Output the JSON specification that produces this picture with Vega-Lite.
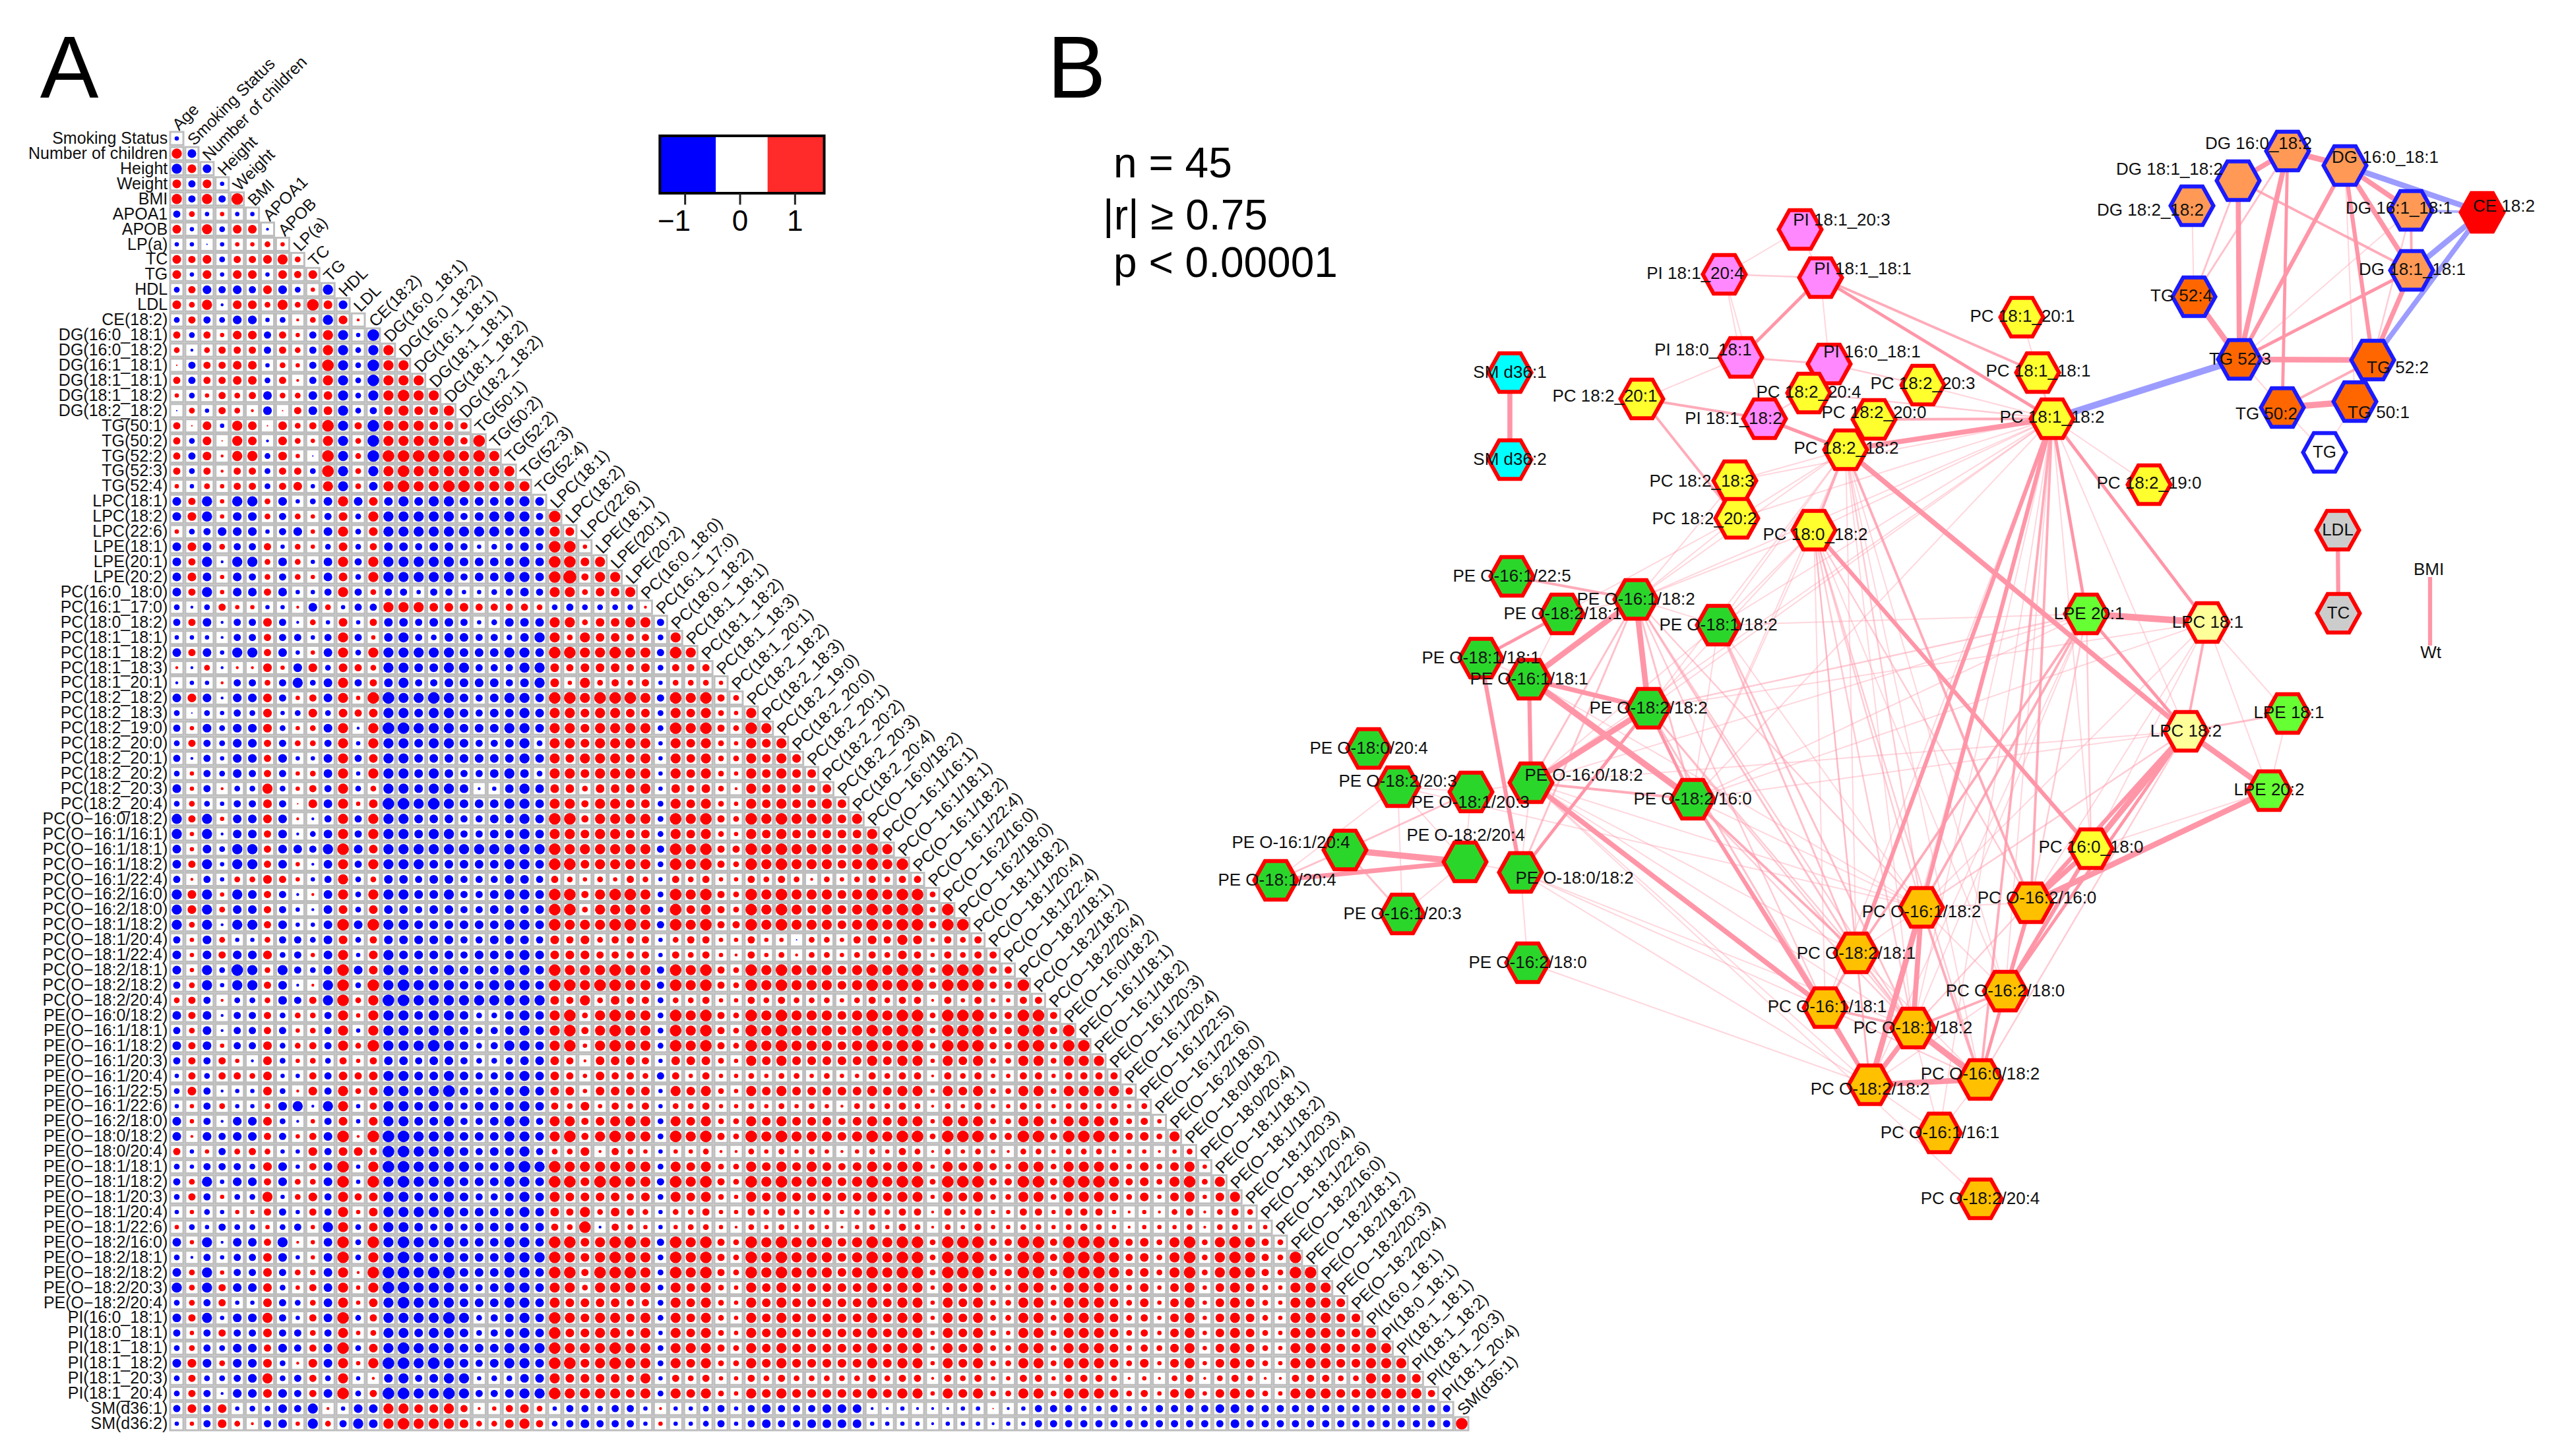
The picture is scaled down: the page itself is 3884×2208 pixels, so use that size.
{"$schema":"https://vega.github.io/schema/vega-lite/v6.json","width":3884,"height":2208,"padding":0,"autosize":{"type":"fit","contains":"padding"},"background":"white","config":{"axis":{"disable":true},"legend":{"disable":true},"view":{"stroke":null},"text":{"font":"Liberation Sans","fill":"#111"}},
"datasets":{"names":[{"i":0,"n":"Age"},{"i":1,"n":"Smoking Status"},{"i":2,"n":"Number of children"},{"i":3,"n":"Height"},{"i":4,"n":"Weight"},{"i":5,"n":"BMI"},{"i":6,"n":"APOA1"},{"i":7,"n":"APOB"},{"i":8,"n":"LP(a)"},{"i":9,"n":"TC"},{"i":10,"n":"TG"},{"i":11,"n":"HDL"},{"i":12,"n":"LDL"},{"i":13,"n":"CE(18:2)"},{"i":14,"n":"DG(16:0_18:1)"},{"i":15,"n":"DG(16:0_18:2)"},{"i":16,"n":"DG(16:1_18:1)"},{"i":17,"n":"DG(18:1_18:1)"},{"i":18,"n":"DG(18:1_18:2)"},{"i":19,"n":"DG(18:2_18:2)"},{"i":20,"n":"TG(50:1)"},{"i":21,"n":"TG(50:2)"},{"i":22,"n":"TG(52:2)"},{"i":23,"n":"TG(52:3)"},{"i":24,"n":"TG(52:4)"},{"i":25,"n":"LPC(18:1)"},{"i":26,"n":"LPC(18:2)"},{"i":27,"n":"LPC(22:6)"},{"i":28,"n":"LPE(18:1)"},{"i":29,"n":"LPE(20:1)"},{"i":30,"n":"LPE(20:2)"},{"i":31,"n":"PC(16:0_18:0)"},{"i":32,"n":"PC(16:1_17:0)"},{"i":33,"n":"PC(18:0_18:2)"},{"i":34,"n":"PC(18:1_18:1)"},{"i":35,"n":"PC(18:1_18:2)"},{"i":36,"n":"PC(18:1_18:3)"},{"i":37,"n":"PC(18:1_20:1)"},{"i":38,"n":"PC(18:2_18:2)"},{"i":39,"n":"PC(18:2_18:3)"},{"i":40,"n":"PC(18:2_19:0)"},{"i":41,"n":"PC(18:2_20:0)"},{"i":42,"n":"PC(18:2_20:1)"},{"i":43,"n":"PC(18:2_20:2)"},{"i":44,"n":"PC(18:2_20:3)"},{"i":45,"n":"PC(18:2_20:4)"},{"i":46,"n":"PC(O−16:0/18:2)"},{"i":47,"n":"PC(O−16:1/16:1)"},{"i":48,"n":"PC(O−16:1/18:1)"},{"i":49,"n":"PC(O−16:1/18:2)"},{"i":50,"n":"PC(O−16:1/22:4)"},{"i":51,"n":"PC(O−16:2/16:0)"},{"i":52,"n":"PC(O−16:2/18:0)"},{"i":53,"n":"PC(O−18:1/18:2)"},{"i":54,"n":"PC(O−18:1/20:4)"},{"i":55,"n":"PC(O−18:1/22:4)"},{"i":56,"n":"PC(O−18:2/18:1)"},{"i":57,"n":"PC(O−18:2/18:2)"},{"i":58,"n":"PC(O−18:2/20:4)"},{"i":59,"n":"PE(O−16:0/18:2)"},{"i":60,"n":"PE(O−16:1/18:1)"},{"i":61,"n":"PE(O−16:1/18:2)"},{"i":62,"n":"PE(O−16:1/20:3)"},{"i":63,"n":"PE(O−16:1/20:4)"},{"i":64,"n":"PE(O−16:1/22:5)"},{"i":65,"n":"PE(O−16:1/22:6)"},{"i":66,"n":"PE(O−16:2/18:0)"},{"i":67,"n":"PE(O−18:0/18:2)"},{"i":68,"n":"PE(O−18:0/20:4)"},{"i":69,"n":"PE(O−18:1/18:1)"},{"i":70,"n":"PE(O−18:1/18:2)"},{"i":71,"n":"PE(O−18:1/20:3)"},{"i":72,"n":"PE(O−18:1/20:4)"},{"i":73,"n":"PE(O−18:1/22:6)"},{"i":74,"n":"PE(O−18:2/16:0)"},{"i":75,"n":"PE(O−18:2/18:1)"},{"i":76,"n":"PE(O−18:2/18:2)"},{"i":77,"n":"PE(O−18:2/20:3)"},{"i":78,"n":"PE(O−18:2/20:4)"},{"i":79,"n":"PI(16:0_18:1)"},{"i":80,"n":"PI(18:0_18:1)"},{"i":81,"n":"PI(18:1_18:1)"},{"i":82,"n":"PI(18:1_18:2)"},{"i":83,"n":"PI(18:1_20:3)"},{"i":84,"n":"PI(18:1_20:4)"},{"i":85,"n":"SM(d36:1)"},{"i":86,"n":"SM(d36:2)"}],
"nodes":[{"id":0,"n":"PI 18:1_20:3","g":"PI","x":2729,"y":348,"lx":2792,"ly":334},{"id":1,"n":"PI 18:1_20:4","g":"PI","x":2614,"y":416,"lx":2570,"ly":415},{"id":2,"n":"PI 18:1_18:1","g":"PI","x":2760,"y":421,"lx":2824,"ly":408},{"id":3,"n":"PC 18:1_20:1","g":"PC","x":3065,"y":481,"lx":3066,"ly":480},{"id":4,"n":"PI 18:0_18:1","g":"PI","x":2639,"y":542,"lx":2582,"ly":531},{"id":5,"n":"PI 16:0_18:1","g":"PI","x":2773,"y":552,"lx":2838,"ly":534},{"id":6,"n":"PC 18:1_18:1","g":"PC","x":3089,"y":565,"lx":3090,"ly":563},{"id":7,"n":"PC 18:2_20:3","g":"PC","x":2915,"y":584,"lx":2915,"ly":582},{"id":8,"n":"PC 18:2_20:4","g":"PC","x":2742,"y":596,"lx":2742,"ly":595},{"id":9,"n":"PC 18:2_20:1","g":"PC","x":2489,"y":605,"lx":2433,"ly":601},{"id":10,"n":"PI 18:1_18:2","g":"PI","x":2675,"y":635,"lx":2628,"ly":635},{"id":11,"n":"PC 18:2_20:0","g":"PC","x":2841,"y":636,"lx":2841,"ly":626},{"id":12,"n":"PC 18:1_18:2","g":"PC","x":3111,"y":635,"lx":3111,"ly":633},{"id":13,"n":"PC 18:2_18:2","g":"PC","x":2798,"y":682,"lx":2799,"ly":680},{"id":14,"n":"PC 18:2_18:3","g":"PC","x":2630,"y":729,"lx":2580,"ly":730},{"id":15,"n":"PC 18:2_20:2","g":"PC","x":2633,"y":786,"lx":2584,"ly":787},{"id":16,"n":"PC 18:0_18:2","g":"PC","x":2750,"y":804,"lx":2752,"ly":811},{"id":17,"n":"PC 18:2_19:0","g":"PC","x":3258,"y":735,"lx":3258,"ly":733},{"id":18,"n":"DG 16:0_18:2","g":"DG","x":3468,"y":229,"lx":3424,"ly":218},{"id":19,"n":"DG 16:0_18:1","g":"DG","x":3555,"y":251,"lx":3616,"ly":239},{"id":20,"n":"DG 18:1_18:2","g":"DG","x":3393,"y":274,"lx":3289,"ly":257},{"id":21,"n":"DG 18:2_18:2","g":"DG","x":3323,"y":312,"lx":3260,"ly":319},{"id":22,"n":"DG 16:1_18:1","g":"DG","x":3655,"y":319,"lx":3637,"ly":316},{"id":23,"n":"CE 18:2","g":"CE","x":3763,"y":322,"lx":3796,"ly":313},{"id":24,"n":"DG 18:1_18:1","g":"DG","x":3656,"y":410,"lx":3657,"ly":409},{"id":25,"n":"TG 52:4","g":"TGl","x":3326,"y":450,"lx":3307,"ly":449},{"id":26,"n":"TG 52:3","g":"TGl","x":3395,"y":545,"lx":3396,"ly":545},{"id":27,"n":"TG 52:2","g":"TGl","x":3597,"y":546,"lx":3635,"ly":558},{"id":28,"n":"TG 50:2","g":"TGl","x":3460,"y":618,"lx":3436,"ly":628},{"id":29,"n":"TG 50:1","g":"TGl","x":3570,"y":609,"lx":3606,"ly":626},{"id":30,"n":"TG","g":"TGc","x":3524,"y":686,"lx":3524,"ly":686},{"id":31,"n":"LDL","g":"Cl","x":3544,"y":804,"lx":3544,"ly":804},{"id":32,"n":"TC","g":"Cl","x":3545,"y":930,"lx":3545,"ly":930},{"id":33,"n":"BMI","g":"none","x":3684,"y":875,"lx":3682,"ly":864},{"id":34,"n":"Wt","g":"none","x":3684,"y":979,"lx":3685,"ly":990},{"id":35,"n":"LPE 20:1","g":"LPE","x":3163,"y":931,"lx":3167,"ly":931},{"id":36,"n":"LPC 18:1","g":"LPC","x":3346,"y":944,"lx":3347,"ly":944},{"id":37,"n":"LPE 18:1","g":"LPE","x":3468,"y":1082,"lx":3470,"ly":1081},{"id":38,"n":"LPC 18:2","g":"LPC","x":3314,"y":1109,"lx":3314,"ly":1109},{"id":39,"n":"LPE 20:2","g":"LPE","x":3440,"y":1199,"lx":3440,"ly":1198},{"id":40,"n":"PC 16:0_18:0","g":"PC","x":3170,"y":1287,"lx":3170,"ly":1285},{"id":41,"n":"PC O-16:2/16:0","g":"PCO","x":3079,"y":1369,"lx":3088,"ly":1362},{"id":42,"n":"PC O-16:1/18:2","g":"PCO","x":2913,"y":1376,"lx":2913,"ly":1383},{"id":43,"n":"PC O-18:2/18:1","g":"PCO","x":2814,"y":1445,"lx":2814,"ly":1446},{"id":44,"n":"PC O-16:2/18:0","g":"PCO","x":3040,"y":1503,"lx":3040,"ly":1503},{"id":45,"n":"PC O-16:1/18:1","g":"PCO","x":2767,"y":1528,"lx":2770,"ly":1527},{"id":46,"n":"PC O-18:1/18:2","g":"PCO","x":2900,"y":1559,"lx":2900,"ly":1559},{"id":47,"n":"PC O-18:2/18:2","g":"PCO","x":2835,"y":1645,"lx":2835,"ly":1652},{"id":48,"n":"PC O-16:0/18:2","g":"PCO","x":3002,"y":1637,"lx":3002,"ly":1629},{"id":49,"n":"PC O-16:1/16:1","g":"PCO","x":2940,"y":1718,"lx":2941,"ly":1718},{"id":50,"n":"PC O-18:2/20:4","g":"PCO","x":3002,"y":1818,"lx":3002,"ly":1818},{"id":51,"n":"PE O-16:1/22:5","g":"PEO","x":2292,"y":874,"lx":2292,"ly":874},{"id":52,"n":"PE O-16:1/18:2","g":"PEO","x":2480,"y":909,"lx":2480,"ly":909},{"id":53,"n":"PE O-18:2/18:1","g":"PEO","x":2368,"y":931,"lx":2369,"ly":931},{"id":54,"n":"PE O-18:1/18:2","g":"PEO","x":2605,"y":948,"lx":2605,"ly":948},{"id":55,"n":"PE O-18:1/18:1","g":"PEO","x":2245,"y":998,"lx":2245,"ly":998},{"id":56,"n":"PE O-16:1/18:1","g":"PEO","x":2318,"y":1030,"lx":2318,"ly":1030},{"id":57,"n":"PE O-18:2/18:2","g":"PEO","x":2499,"y":1074,"lx":2499,"ly":1074},{"id":58,"n":"PE O-18:0/20:4","g":"PEO","x":2075,"y":1135,"lx":2075,"ly":1135},{"id":59,"n":"PE O-16:0/18:2","g":"PEO","x":2321,"y":1187,"lx":2401,"ly":1176},{"id":60,"n":"PE O-18:2/20:3","g":"PEO","x":2119,"y":1193,"lx":2119,"ly":1185},{"id":61,"n":"PE O-18:1/20:3","g":"PEO","x":2230,"y":1201,"lx":2229,"ly":1217},{"id":62,"n":"PE O-18:2/16:0","g":"PEO","x":2566,"y":1212,"lx":2566,"ly":1212},{"id":63,"n":"PE O-16:1/20:4","g":"PEO","x":2039,"y":1289,"lx":1957,"ly":1278},{"id":64,"n":"PE O-18:2/20:4","g":"PEO","x":2221,"y":1307,"lx":2222,"ly":1267},{"id":65,"n":"PE O-18:1/20:4","g":"PEO","x":1934,"y":1335,"lx":1936,"ly":1335},{"id":66,"n":"PE O-18:0/18:2","g":"PEO","x":2305,"y":1323,"lx":2387,"ly":1332},{"id":67,"n":"PE O-16:1/20:3","g":"PEO","x":2126,"y":1386,"lx":2126,"ly":1386},{"id":68,"n":"PE O-16:2/18:0","g":"PEO","x":2316,"y":1460,"lx":2316,"ly":1460},{"id":69,"n":"SM d36:1","g":"SM","x":2289,"y":565,"lx":2289,"ly":565},{"id":70,"n":"SM d36:2","g":"SM","x":2289,"y":697,"lx":2289,"ly":697}]},
"resolve":{"scale":{"x":"independent","y":"independent","color":"independent","fill":"independent","stroke":"independent","size":"independent","opacity":"independent","strokeWidth":"independent"}},
"layer":[
{"layer":[
{"data":{"name":"names"},"transform":[{"filter":"datum.i>=1"}],"mark":{"type":"text","align":"right","baseline":"middle","fontSize":25},"encoding":{"x":{"datum":-0.6,"type":"quantitative","scale":{"domain":[0,85],"range":[268,2216]}},"y":{"field":"i","type":"quantitative","scale":{"domain":[1,86],"range":[210,2159]}},"text":{"field":"n"}}},
{"data":{"name":"names"},"transform":[{"filter":"datum.i<=85"}],"mark":{"type":"text","align":"left","baseline":"alphabetic","angle":315,"fontSize":25,"dx":-6,"dy":11},"encoding":{"x":{"field":"i","type":"quantitative","scale":{"domain":[0,85],"range":[268,2216]}},"y":{"field":"i","type":"quantitative","scale":{"domain":[1,86],"range":[210,2159]}},"text":{"field":"n"}}},
{"data":{"values":"r,c,v\n1,0,-3\n2,0,7\n2,1,-6\n3,0,-7\n3,1,6\n3,2,-6\n4,0,6\n4,1,-5\n4,2,6\n4,3,-3\n5,0,7\n5,1,-5\n5,2,7\n5,3,-5\n5,4,8\n6,0,-5\n6,1,4\n6,2,-3\n6,3,3\n6,4,-3\n6,5,-3\n7,0,6\n7,1,-3\n7,2,7\n7,3,-4\n7,4,6\n7,5,6\n7,6,-2\n8,0,-3\n8,1,-3\n8,2,-1\n8,3,-3\n8,4,3\n8,5,3\n8,6,4\n8,7,3\n9,0,6\n9,1,5\n9,2,6\n9,3,-4\n9,4,5\n9,5,5\n9,6,6\n9,7,7\n9,8,4\n10,0,6\n10,1,-3\n10,2,6\n10,3,-3\n10,4,6\n10,5,6\n10,6,-3\n10,7,6\n10,8,5\n10,9,6\n11,0,-4\n11,1,5\n11,2,-6\n11,3,-5\n11,4,-6\n11,5,-5\n11,6,6\n11,7,-6\n11,8,-4\n11,9,3\n11,10,-7\n12,0,6\n12,1,4\n12,2,7\n12,3,-2\n12,4,6\n12,5,6\n12,6,4\n12,7,7\n12,8,4\n12,9,8\n12,10,6\n12,11,-6\n13,0,-4\n13,1,5\n13,2,-5\n13,3,-4\n13,4,-6\n13,5,-6\n13,6,-3\n13,7,-4\n13,8,2\n13,9,4\n13,10,-7\n13,11,6\n13,12,2\n14,0,5\n14,1,-4\n14,2,5\n14,3,3\n14,4,6\n14,5,6\n14,6,-5\n14,7,5\n14,8,3\n14,9,-5\n14,10,7\n14,11,-7\n14,12,-3\n14,13,-8\n15,0,4\n15,1,-2\n15,2,4\n15,3,5\n15,4,5\n15,5,5\n15,6,-5\n15,7,5\n15,8,4\n15,9,-5\n15,10,7\n15,11,-7\n15,12,-4\n15,13,-7\n15,14,7\n16,0,1\n16,1,-5\n16,2,5\n16,3,5\n16,4,6\n16,5,6\n16,6,-3\n16,7,4\n16,8,3\n16,9,-5\n16,10,8\n16,11,-7\n16,12,-4\n16,13,-8\n16,14,7\n16,15,7\n17,0,5\n17,1,-5\n17,2,5\n17,3,5\n17,4,6\n17,5,6\n17,6,-4\n17,7,5\n17,8,2\n17,9,-5\n17,10,7\n17,11,-7\n17,12,-4\n17,13,-8\n17,14,7\n17,15,7\n17,16,7\n18,0,3\n18,1,-4\n18,2,3\n18,3,5\n18,4,4\n18,5,5\n18,6,-6\n18,7,4\n18,8,4\n18,9,-6\n18,10,6\n18,11,-7\n18,12,-4\n18,13,-7\n18,14,7\n18,15,8\n18,16,7\n18,17,7\n19,0,-1\n19,1,4\n19,2,-3\n19,3,5\n19,4,4\n19,5,2\n19,6,-6\n19,7,1\n19,8,5\n19,9,-6\n19,10,6\n19,11,-7\n19,12,-4\n19,13,-5\n19,14,6\n19,15,7\n19,16,6\n19,17,6\n19,18,7\n20,0,5\n20,1,1\n20,2,6\n20,3,-3\n20,4,7\n20,5,6\n20,6,1\n20,7,6\n20,8,4\n20,9,5\n20,10,8\n20,11,-7\n20,12,5\n20,13,-8\n20,14,7\n20,15,7\n20,16,7\n20,17,6\n20,18,6\n20,19,5\n21,0,5\n21,1,-4\n21,2,6\n21,3,1\n21,4,7\n21,5,6\n21,6,-2\n21,7,6\n21,8,4\n21,9,3\n21,10,7\n21,11,-7\n21,12,4\n21,13,-8\n21,14,7\n21,15,7\n21,16,7\n21,17,7\n21,18,7\n21,19,5\n21,20,8\n22,0,5\n22,1,-5\n22,2,6\n22,3,2\n22,4,7\n22,5,7\n22,6,-4\n22,7,6\n22,8,3\n22,9,-1\n22,10,8\n22,11,-7\n22,12,4\n22,13,-8\n22,14,8\n22,15,8\n22,16,8\n22,17,8\n22,18,8\n22,19,7\n22,20,8\n22,21,7\n23,0,5\n23,1,-4\n23,2,5\n23,3,2\n23,4,5\n23,5,5\n23,6,-4\n23,7,5\n23,8,5\n23,9,-4\n23,10,8\n23,11,-7\n23,12,4\n23,13,-7\n23,14,7\n23,15,8\n23,16,7\n23,17,7\n23,18,7\n23,19,7\n23,20,7\n23,21,7\n23,22,7\n24,0,3\n24,1,-3\n24,2,4\n24,3,3\n24,4,5\n24,5,5\n24,6,-4\n24,7,5\n24,8,6\n24,9,-3\n24,10,7\n24,11,-7\n24,12,4\n24,13,-6\n24,14,7\n24,15,8\n24,16,7\n24,17,7\n24,18,8\n24,19,8\n24,20,7\n24,21,7\n24,22,7\n24,23,7\n25,0,-6\n25,1,5\n25,2,-7\n25,3,3\n25,4,-7\n25,5,-7\n25,6,4\n25,7,-6\n25,8,-3\n25,9,-4\n25,10,-6\n25,11,7\n25,12,-6\n25,13,6\n25,14,-6\n25,15,-7\n25,16,-6\n25,17,-7\n25,18,-7\n25,19,-6\n25,20,-6\n25,21,-6\n25,22,-6\n25,23,-7\n25,24,-6\n26,0,-6\n26,1,6\n26,2,-7\n26,3,3\n26,4,-6\n26,5,-6\n26,6,4\n26,7,-5\n26,8,4\n26,9,3\n26,10,-5\n26,11,6\n26,12,-4\n26,13,7\n26,14,-7\n26,15,-7\n26,16,-7\n26,17,-7\n26,18,-7\n26,19,-5\n26,20,-6\n26,21,-7\n26,22,-7\n26,23,-7\n26,24,-5\n26,25,8\n27,0,3\n27,1,-4\n27,2,-5\n27,3,-6\n27,4,-6\n27,5,-6\n27,6,-3\n27,7,-5\n27,8,-6\n27,9,3\n27,10,-6\n27,11,7\n27,12,-4\n27,13,6\n27,14,-7\n27,15,-7\n27,16,-7\n27,17,-7\n27,18,-7\n27,19,-7\n27,20,-7\n27,21,-7\n27,22,-6\n27,23,-7\n27,24,-6\n27,25,7\n27,26,6\n28,0,-6\n28,1,6\n28,2,-6\n28,3,4\n28,4,-5\n28,5,-5\n28,6,5\n28,7,-3\n28,8,4\n28,9,3\n28,10,-4\n28,11,6\n28,12,-4\n28,13,5\n28,14,-6\n28,15,-6\n28,16,-5\n28,17,-6\n28,18,-6\n28,19,-5\n28,20,-3\n28,21,-4\n28,22,-5\n28,23,-6\n28,24,-5\n28,25,8\n28,26,8\n28,27,3\n29,0,-6\n29,1,5\n29,2,-7\n29,3,-2\n29,4,-7\n29,5,-7\n29,6,4\n29,7,-6\n29,8,4\n29,9,-3\n29,10,-6\n29,11,7\n29,12,-5\n29,13,7\n29,14,-7\n29,15,-7\n29,16,-7\n29,17,-7\n29,18,-7\n29,19,-6\n29,20,-6\n29,21,-6\n29,22,-6\n29,23,-7\n29,24,-6\n29,25,8\n29,26,8\n29,27,6\n29,28,7\n30,0,-6\n30,1,6\n30,2,-6\n30,3,3\n30,4,-6\n30,5,-5\n30,6,4\n30,7,-5\n30,8,4\n30,9,3\n30,10,-6\n30,11,6\n30,12,-4\n30,13,7\n30,14,-7\n30,15,-7\n30,16,-7\n30,17,-7\n30,18,-7\n30,19,-5\n30,20,-6\n30,21,-6\n30,22,-7\n30,23,-7\n30,24,-6\n30,25,8\n30,26,9\n30,27,5\n30,28,7\n30,29,7\n31,0,-6\n31,1,5\n31,2,-7\n31,3,3\n31,4,-6\n31,5,-6\n31,6,5\n31,7,-6\n31,8,-3\n31,9,-3\n31,10,-5\n31,11,7\n31,12,-5\n31,13,4\n31,14,-5\n31,15,-5\n31,16,-3\n31,17,-5\n31,18,-5\n31,19,-3\n31,20,-3\n31,21,-4\n31,22,-5\n31,23,-6\n31,24,-5\n31,25,7\n31,26,7\n31,27,4\n31,28,6\n31,29,6\n31,30,7\n32,0,-4\n32,1,-2\n32,2,-4\n32,3,5\n32,4,3\n32,5,3\n32,6,-3\n32,7,-3\n32,8,2\n32,9,-6\n32,10,4\n32,11,-3\n32,12,-5\n32,13,-5\n32,14,7\n32,15,7\n32,16,7\n32,17,6\n32,18,6\n32,19,6\n32,20,5\n32,21,5\n32,22,5\n32,23,5\n32,24,4\n32,25,-4\n32,26,-5\n32,27,-4\n32,28,-4\n32,29,-4\n32,30,-4\n32,31,2\n33,0,-5\n33,1,5\n33,2,-6\n33,3,-2\n33,4,-5\n33,5,-5\n33,6,6\n33,7,-5\n33,8,-2\n33,9,4\n33,10,-3\n33,11,6\n33,12,-3\n33,13,5\n33,14,-6\n33,15,-6\n33,16,-5\n33,17,-6\n33,18,-6\n33,19,-5\n33,20,-3\n33,21,-4\n33,22,-6\n33,23,-6\n33,24,-6\n33,25,7\n33,26,7\n33,27,4\n33,28,6\n33,29,6\n33,30,7\n33,31,7\n33,32,-5\n34,0,-3\n34,1,-3\n34,2,-3\n34,3,-2\n34,4,-5\n34,5,-5\n34,6,5\n34,7,-5\n34,8,-5\n34,9,-3\n34,10,-5\n34,11,7\n34,12,-5\n34,13,3\n34,14,-6\n34,15,-7\n34,16,-5\n34,17,-4\n34,18,-6\n34,19,-6\n34,20,-5\n34,21,-5\n34,22,-4\n34,23,-6\n34,24,-7\n34,25,7\n34,26,4\n34,27,7\n34,28,6\n34,29,6\n34,30,5\n34,31,5\n34,32,-4\n34,33,7\n35,0,-6\n35,1,5\n35,2,-6\n35,3,-3\n35,4,-7\n35,5,-7\n35,6,5\n35,7,-6\n35,8,-3\n35,9,3\n35,10,-6\n35,11,7\n35,12,-4\n35,13,7\n35,14,-7\n35,15,-7\n35,16,-7\n35,17,-7\n35,18,-7\n35,19,-6\n35,20,-6\n35,21,-6\n35,22,-7\n35,23,-7\n35,24,-6\n35,25,8\n35,26,8\n35,27,7\n35,28,7\n35,29,8\n35,30,7\n35,31,7\n35,32,-5\n35,33,8\n35,34,7\n36,0,2\n36,1,-2\n36,2,4\n36,3,-2\n36,4,2\n36,5,2\n36,6,6\n36,7,3\n36,8,-6\n36,9,6\n36,10,-4\n36,11,6\n36,12,5\n36,13,4\n36,14,-7\n36,15,-7\n36,16,-6\n36,17,-6\n36,18,-7\n36,19,-7\n36,20,-5\n36,21,-5\n36,22,-5\n36,23,-7\n36,24,-7\n36,25,6\n36,26,5\n36,27,6\n36,28,6\n36,29,6\n36,30,5\n36,31,6\n36,32,-4\n36,33,5\n36,34,5\n36,35,5\n37,0,-2\n37,1,-3\n37,2,-3\n37,3,2\n37,4,-5\n37,5,-5\n37,6,4\n37,7,-5\n37,8,-7\n37,9,-4\n37,10,-6\n37,11,7\n37,12,-5\n37,13,5\n37,14,-6\n37,15,-7\n37,16,-5\n37,17,-5\n37,18,-6\n37,19,-6\n37,20,-6\n37,21,-6\n37,22,-5\n37,23,-6\n37,24,-7\n37,25,6\n37,26,3\n37,27,7\n37,28,4\n37,29,5\n37,30,4\n37,31,5\n37,32,-3\n37,33,4\n37,34,4\n37,35,4\n37,36,3\n38,0,-6\n38,1,6\n38,2,-6\n38,3,-2\n38,4,-6\n38,5,-6\n38,6,6\n38,7,-5\n38,8,3\n38,9,5\n38,10,-6\n38,11,7\n38,12,3\n38,13,8\n38,14,-8\n38,15,-7\n38,16,-7\n38,17,-8\n38,18,-7\n38,19,-6\n38,20,-5\n38,21,-6\n38,22,-7\n38,23,-7\n38,24,-6\n38,25,8\n38,26,8\n38,27,7\n38,28,8\n38,29,8\n38,30,8\n38,31,7\n38,32,-5\n38,33,8\n38,34,7\n38,35,8\n38,36,5\n38,37,4\n39,0,-4\n39,1,-1\n39,2,-4\n39,3,-3\n39,4,-5\n39,5,-4\n39,6,6\n39,7,-3\n39,8,-4\n39,9,6\n39,10,-4\n39,11,6\n39,12,5\n39,13,6\n39,14,-7\n39,15,-7\n39,16,-6\n39,17,-7\n39,18,-7\n39,19,-6\n39,20,-5\n39,21,-6\n39,22,-6\n39,23,-7\n39,24,-6\n39,25,7\n39,26,7\n39,27,6\n39,28,7\n39,29,7\n39,30,6\n39,31,6\n39,32,-4\n39,33,7\n39,34,6\n39,35,7\n39,36,4\n39,37,3\n39,38,7\n40,0,-5\n40,1,3\n40,2,-6\n40,3,-4\n40,4,-6\n40,5,-6\n40,6,6\n40,7,-4\n40,8,3\n40,9,4\n40,10,-6\n40,11,7\n40,12,-2\n40,13,7\n40,14,-8\n40,15,-8\n40,16,-7\n40,17,-7\n40,18,-7\n40,19,-6\n40,20,-6\n40,21,-6\n40,22,-7\n40,23,-7\n40,24,-6\n40,25,7\n40,26,7\n40,27,6\n40,28,7\n40,29,7\n40,30,7\n40,31,7\n40,32,-4\n40,33,8\n40,34,7\n40,35,8\n40,36,5\n40,37,4\n40,38,8\n40,39,7\n41,0,-4\n41,1,5\n41,2,-5\n41,3,-4\n41,4,-6\n41,5,-6\n41,6,5\n41,7,-5\n41,8,4\n41,9,4\n41,10,-5\n41,11,7\n41,12,-3\n41,13,7\n41,14,-7\n41,15,-7\n41,16,-6\n41,17,-7\n41,18,-7\n41,19,-6\n41,20,-5\n41,21,-5\n41,22,-6\n41,23,-7\n41,24,-4\n41,25,7\n41,26,7\n41,27,6\n41,28,7\n41,29,7\n41,30,7\n41,31,7\n41,32,-3\n41,33,7\n41,34,6\n41,35,7\n41,36,4\n41,37,3\n41,38,7\n41,39,6\n41,40,7\n42,0,-5\n42,1,-2\n42,2,-5\n42,3,-3\n42,4,-6\n42,5,-6\n42,6,5\n42,7,-6\n42,8,-3\n42,9,-3\n42,10,-6\n42,11,7\n42,12,-5\n42,13,6\n42,14,-7\n42,15,-7\n42,16,-6\n42,17,-6\n42,18,-6\n42,19,-6\n42,20,-6\n42,21,-6\n42,22,-6\n42,23,-7\n42,24,-6\n42,25,7\n42,26,6\n42,27,7\n42,28,7\n42,29,7\n42,30,6\n42,31,7\n42,32,-3\n42,33,7\n42,34,6\n42,35,7\n42,36,4\n42,37,4\n42,38,7\n42,39,6\n42,40,7\n42,41,6\n43,0,-4\n43,1,3\n43,2,-5\n43,3,-4\n43,4,-6\n43,5,-5\n43,6,5\n43,7,-5\n43,8,3\n43,9,4\n43,10,-6\n43,11,7\n43,12,-3\n43,13,7\n43,14,-7\n43,15,-7\n43,16,-6\n43,17,-7\n43,18,-6\n43,19,-5\n43,20,-5\n43,21,-6\n43,22,-7\n43,23,-6\n43,24,-4\n43,25,7\n43,26,7\n43,27,6\n43,28,7\n43,29,7\n43,30,7\n43,31,7\n43,32,-3\n43,33,7\n43,34,6\n43,35,7\n43,36,4\n43,37,3\n43,38,7\n43,39,6\n43,40,7\n43,41,6\n43,42,6\n44,0,-6\n44,1,3\n44,2,-5\n44,3,2\n44,4,-4\n44,5,-4\n44,6,7\n44,7,-4\n44,8,3\n44,9,5\n44,10,-5\n44,11,7\n44,12,-4\n44,13,4\n44,14,-7\n44,15,-7\n44,16,-6\n44,17,-7\n44,18,-7\n44,19,-6\n44,20,-2\n44,21,-3\n44,22,-6\n44,23,-7\n44,24,-6\n44,25,6\n44,26,6\n44,27,4\n44,28,6\n44,29,6\n44,30,6\n44,31,7\n44,32,-3\n44,33,6\n44,34,5\n44,35,6\n44,36,4\n44,37,2\n44,38,7\n44,39,6\n44,40,6\n44,41,6\n44,42,5\n44,43,6\n45,0,-4\n45,1,4\n45,2,-4\n45,3,-3\n45,4,-5\n45,5,-5\n45,6,6\n45,7,-5\n45,8,1\n45,9,6\n45,10,-6\n45,11,7\n45,12,3\n45,13,6\n45,14,-8\n45,15,-8\n45,16,-7\n45,17,-8\n45,18,-7\n45,19,-6\n45,20,-6\n45,21,-6\n45,22,-7\n45,23,-7\n45,24,-6\n45,25,7\n45,26,7\n45,27,5\n45,28,7\n45,29,7\n45,30,6\n45,31,6\n45,32,-4\n45,33,7\n45,34,6\n45,35,7\n45,36,4\n45,37,3\n45,38,7\n45,39,6\n45,40,7\n45,41,6\n45,42,6\n45,43,7\n45,44,6\n46,0,-7\n46,1,5\n46,2,-7\n46,3,3\n46,4,-6\n46,5,-6\n46,6,6\n46,7,-6\n46,8,2\n46,9,-2\n46,10,-5\n46,11,7\n46,12,-5\n46,13,7\n46,14,-7\n46,15,-7\n46,16,-6\n46,17,-6\n46,18,-6\n46,19,-5\n46,20,-5\n46,21,-6\n46,22,-6\n46,23,-7\n46,24,-6\n46,25,8\n46,26,8\n46,27,5\n46,28,7\n46,29,7\n46,30,7\n46,31,7\n46,32,-4\n46,33,8\n46,34,7\n46,35,8\n46,36,5\n46,37,4\n46,38,8\n46,39,7\n46,40,8\n46,41,7\n46,42,7\n46,43,7\n46,44,6\n46,45,7\n47,0,-7\n47,1,3\n47,2,-7\n47,3,-2\n47,4,-6\n47,5,-6\n47,6,5\n47,7,-6\n47,8,-2\n47,9,-4\n47,10,-6\n47,11,7\n47,12,-5\n47,13,7\n47,14,-7\n47,15,-7\n47,16,-6\n47,17,-7\n47,18,-7\n47,19,-5\n47,20,-5\n47,21,-6\n47,22,-6\n47,23,-7\n47,24,-6\n47,25,7\n47,26,7\n47,27,6\n47,28,7\n47,29,7\n47,30,6\n47,31,6\n47,32,-4\n47,33,7\n47,34,6\n47,35,7\n47,36,4\n47,37,3\n47,38,7\n47,39,6\n47,40,7\n47,41,6\n47,42,6\n47,43,6\n47,44,6\n47,45,6\n47,46,7\n48,0,-6\n48,1,3\n48,2,-6\n48,3,-4\n48,4,-7\n48,5,-7\n48,6,5\n48,7,-6\n48,8,-6\n48,9,-5\n48,10,-7\n48,11,8\n48,12,-6\n48,13,6\n48,14,-7\n48,15,-7\n48,16,-7\n48,17,-7\n48,18,-7\n48,19,-7\n48,20,-7\n48,21,-7\n48,22,-7\n48,23,-7\n48,24,-7\n48,25,8\n48,26,7\n48,27,7\n48,28,7\n48,29,7\n48,30,7\n48,31,7\n48,32,-5\n48,33,8\n48,34,7\n48,35,8\n48,36,5\n48,37,5\n48,38,8\n48,39,7\n48,40,8\n48,41,7\n48,42,7\n48,43,7\n48,44,6\n48,45,7\n48,46,8\n48,47,7\n49,0,-6\n49,1,5\n49,2,-7\n49,3,-3\n49,4,-7\n49,5,-7\n49,6,5\n49,7,-6\n49,8,3\n49,9,-2\n49,10,-6\n49,11,7\n49,12,-5\n49,13,7\n49,14,-7\n49,15,-7\n49,16,-7\n49,17,-6\n49,18,-6\n49,19,-6\n49,20,-6\n49,21,-6\n49,22,-7\n49,23,-7\n49,24,-6\n49,25,8\n49,26,8\n49,27,6\n49,28,7\n49,29,7\n49,30,7\n49,31,7\n49,32,-4\n49,33,8\n49,34,7\n49,35,8\n49,36,5\n49,37,4\n49,38,8\n49,39,7\n49,40,8\n49,41,7\n49,42,7\n49,43,7\n49,44,6\n49,45,7\n49,46,8\n49,47,7\n49,48,8\n50,0,-5\n50,1,2\n50,2,-5\n50,3,-3\n50,4,4\n50,5,4\n50,6,6\n50,7,5\n50,8,3\n50,9,-3\n50,10,-5\n50,11,7\n50,12,-4\n50,13,4\n50,14,-6\n50,15,-6\n50,16,-5\n50,17,-6\n50,18,-6\n50,19,-5\n50,20,-5\n50,21,-5\n50,22,-6\n50,23,-6\n50,24,-5\n50,25,5\n50,26,4\n50,27,3\n50,28,4\n50,29,3\n50,30,5\n50,31,4\n50,32,-3\n50,33,5\n50,34,4\n50,35,5\n50,36,3\n50,37,3\n50,38,5\n50,39,4\n50,40,5\n50,41,4\n50,42,2\n50,43,4\n50,44,3\n50,45,4\n50,46,5\n50,47,4\n50,48,5\n50,49,5\n51,0,-7\n51,1,6\n51,2,-7\n51,3,3\n51,4,-7\n51,5,-6\n51,6,5\n51,7,-5\n51,8,-2\n51,9,2\n51,10,-6\n51,11,7\n51,12,-4\n51,13,7\n51,14,-7\n51,15,-7\n51,16,-6\n51,17,-6\n51,18,-7\n51,19,-5\n51,20,-5\n51,21,-6\n51,22,-7\n51,23,-7\n51,24,-6\n51,25,8\n51,26,8\n51,27,5\n51,28,7\n51,29,8\n51,30,8\n51,31,7\n51,32,-4\n51,33,8\n51,34,7\n51,35,8\n51,36,5\n51,37,4\n51,38,8\n51,39,7\n51,40,8\n51,41,7\n51,42,7\n51,43,7\n51,44,6\n51,45,7\n51,46,8\n51,47,7\n51,48,8\n51,49,8\n51,50,4\n52,0,-7\n52,1,6\n52,2,-7\n52,3,4\n52,4,-6\n52,5,-6\n52,6,5\n52,7,-5\n52,8,-3\n52,9,-2\n52,10,-6\n52,11,6\n52,12,-4\n52,13,6\n52,14,-6\n52,15,-6\n52,16,-5\n52,17,-6\n52,18,-6\n52,19,-5\n52,20,-5\n52,21,-6\n52,22,-6\n52,23,-6\n52,24,-6\n52,25,8\n52,26,8\n52,27,4\n52,28,7\n52,29,7\n52,30,7\n52,31,7\n52,32,-4\n52,33,8\n52,34,6\n52,35,7\n52,36,5\n52,37,4\n52,38,8\n52,39,7\n52,40,8\n52,41,7\n52,42,6\n52,43,7\n52,44,6\n52,45,7\n52,46,8\n52,47,7\n52,48,8\n52,49,8\n52,50,4\n52,51,8\n53,0,-7\n53,1,4\n53,2,-7\n53,3,-2\n53,4,-7\n53,5,-7\n53,6,5\n53,7,-6\n53,8,-3\n53,9,-3\n53,10,-6\n53,11,8\n53,12,-6\n53,13,8\n53,14,-7\n53,15,-7\n53,16,-6\n53,17,-6\n53,18,-6\n53,19,-6\n53,20,-6\n53,21,-6\n53,22,-7\n53,23,-7\n53,24,-6\n53,25,8\n53,26,7\n53,27,7\n53,28,7\n53,29,8\n53,30,8\n53,31,7\n53,32,-5\n53,33,8\n53,34,7\n53,35,8\n53,36,5\n53,37,5\n53,38,8\n53,39,7\n53,40,8\n53,41,7\n53,42,7\n53,43,7\n53,44,6\n53,45,7\n53,46,8\n53,47,7\n53,48,8\n53,49,8\n53,50,5\n53,51,8\n53,52,8\n54,0,-5\n54,1,3\n54,2,-6\n54,3,4\n54,4,-3\n54,5,-3\n54,6,4\n54,7,-5\n54,8,-5\n54,9,-4\n54,10,-6\n54,11,6\n54,12,-4\n54,13,5\n54,14,-6\n54,15,-6\n54,16,-6\n54,17,-6\n54,18,-6\n54,19,-5\n54,20,-5\n54,21,-6\n54,22,-6\n54,23,-6\n54,24,-5\n54,25,6\n54,26,5\n54,27,6\n54,28,4\n54,29,5\n54,30,5\n54,31,5\n54,32,-3\n54,33,4\n54,34,5\n54,35,5\n54,36,3\n54,37,3\n54,38,5\n54,39,3\n54,40,3\n54,41,-1\n54,42,4\n54,43,4\n54,44,3\n54,45,5\n54,46,6\n54,47,5\n54,48,7\n54,49,6\n54,50,3\n54,51,5\n54,52,4\n54,53,5\n55,0,-6\n55,1,3\n55,2,-6\n55,3,5\n55,4,-6\n55,5,-6\n55,6,6\n55,7,-4\n55,8,-5\n55,9,3\n55,10,-6\n55,11,7\n55,12,-3\n55,13,6\n55,14,-7\n55,15,-6\n55,16,-6\n55,17,-6\n55,18,-6\n55,19,-5\n55,20,-6\n55,21,-6\n55,22,-6\n55,23,-7\n55,24,-6\n55,25,6\n55,26,6\n55,27,6\n55,28,5\n55,29,5\n55,30,5\n55,31,5\n55,32,-3\n55,33,5\n55,34,4\n55,35,5\n55,36,3\n55,37,2\n55,38,5\n55,39,3\n55,40,4\n55,41,2\n55,42,4\n55,43,4\n55,44,3\n55,45,4\n55,46,5\n55,47,4\n55,48,6\n55,49,5\n55,50,3\n55,51,5\n55,52,4\n55,53,5\n55,54,5\n56,0,-6\n56,1,3\n56,2,-7\n56,3,-4\n56,4,-8\n56,5,-7\n56,6,4\n56,7,-7\n56,8,-5\n56,9,-4\n56,10,-6\n56,11,8\n56,12,-6\n56,13,6\n56,14,-7\n56,15,-7\n56,16,-6\n56,17,-6\n56,18,-7\n56,19,-6\n56,20,-6\n56,21,-6\n56,22,-7\n56,23,-7\n56,24,-6\n56,25,8\n56,26,7\n56,27,7\n56,28,7\n56,29,8\n56,30,7\n56,31,7\n56,32,-5\n56,33,8\n56,34,7\n56,35,8\n56,36,5\n56,37,4\n56,38,8\n56,39,7\n56,40,8\n56,41,7\n56,42,7\n56,43,7\n56,44,6\n56,45,7\n56,46,8\n56,47,7\n56,48,8\n56,49,8\n56,50,4\n56,51,8\n56,52,8\n56,53,8\n56,54,5\n56,55,5\n57,0,-5\n57,1,4\n57,2,-7\n57,3,-3\n57,4,-7\n57,5,-7\n57,6,5\n57,7,-6\n57,8,-2\n57,9,2\n57,10,-7\n57,11,8\n57,12,-4\n57,13,8\n57,14,-7\n57,15,-8\n57,16,-7\n57,17,-7\n57,18,-7\n57,19,-6\n57,20,-6\n57,21,-7\n57,22,-7\n57,23,-7\n57,24,-6\n57,25,8\n57,26,8\n57,27,7\n57,28,8\n57,29,8\n57,30,7\n57,31,7\n57,32,-5\n57,33,8\n57,34,7\n57,35,8\n57,36,5\n57,37,4\n57,38,8\n57,39,7\n57,40,8\n57,41,7\n57,42,7\n57,43,7\n57,44,6\n57,45,7\n57,46,8\n57,47,7\n57,48,8\n57,49,8\n57,50,5\n57,51,8\n57,52,8\n57,53,8\n57,54,5\n57,55,5\n57,56,8\n58,0,4\n58,1,5\n58,2,-5\n58,3,2\n58,4,-4\n58,5,-4\n58,6,4\n58,7,-6\n58,8,-5\n58,9,5\n58,10,-7\n58,11,8\n58,12,4\n58,13,7\n58,14,-8\n58,15,-8\n58,16,-7\n58,17,-7\n58,18,-7\n58,19,-7\n58,20,-7\n58,21,-7\n58,22,-7\n58,23,-7\n58,24,-7\n58,25,6\n58,26,5\n58,27,7\n58,28,4\n58,29,6\n58,30,5\n58,31,5\n58,32,-4\n58,33,4\n58,34,4\n58,35,5\n58,36,3\n58,37,3\n58,38,5\n58,39,4\n58,40,5\n58,41,4\n58,42,4\n58,43,4\n58,44,3\n58,45,4\n58,46,5\n58,47,4\n58,48,5\n58,49,5\n58,50,2\n58,51,5\n58,52,3\n58,53,5\n58,54,3\n58,55,3\n58,56,5\n58,57,5\n59,0,-6\n59,1,5\n59,2,-6\n59,3,-2\n59,4,-5\n59,5,-5\n59,6,5\n59,7,-4\n59,8,4\n59,9,4\n59,10,-5\n59,11,7\n59,12,3\n59,13,7\n59,14,-7\n59,15,-7\n59,16,-6\n59,17,-7\n59,18,-7\n59,19,-6\n59,20,-4\n59,21,-4\n59,22,-6\n59,23,-7\n59,24,-6\n59,25,7\n59,26,8\n59,27,4\n59,28,7\n59,29,8\n59,30,7\n59,31,7\n59,32,-4\n59,33,8\n59,34,7\n59,35,8\n59,36,5\n59,37,4\n59,38,8\n59,39,7\n59,40,8\n59,41,7\n59,42,7\n59,43,7\n59,44,6\n59,45,7\n59,46,8\n59,47,7\n59,48,8\n59,49,8\n59,50,4\n59,51,8\n59,52,8\n59,53,8\n59,54,5\n59,55,5\n59,56,8\n59,57,8\n59,58,5\n60,0,-5\n60,1,4\n60,2,-6\n60,3,-2\n60,4,-5\n60,5,-5\n60,6,5\n60,7,-5\n60,8,3\n60,9,4\n60,10,-5\n60,11,7\n60,12,-3\n60,13,7\n60,14,-7\n60,15,-7\n60,16,-6\n60,17,-7\n60,18,-7\n60,19,-6\n60,20,-5\n60,21,-5\n60,22,-6\n60,23,-7\n60,24,-6\n60,25,7\n60,26,8\n60,27,5\n60,28,7\n60,29,8\n60,30,7\n60,31,7\n60,32,-4\n60,33,8\n60,34,7\n60,35,8\n60,36,5\n60,37,4\n60,38,8\n60,39,7\n60,40,8\n60,41,7\n60,42,7\n60,43,7\n60,44,6\n60,45,7\n60,46,8\n60,47,7\n60,48,8\n60,49,8\n60,50,4\n60,51,8\n60,52,8\n60,53,8\n60,54,5\n60,55,5\n60,56,8\n60,57,8\n60,58,5\n60,59,8\n61,0,-6\n61,1,5\n61,2,-6\n61,3,3\n61,4,-5\n61,5,-5\n61,6,6\n61,7,-4\n61,8,4\n61,9,5\n61,10,-5\n61,11,7\n61,12,4\n61,13,8\n61,14,-7\n61,15,-7\n61,16,-7\n61,17,-8\n61,18,-7\n61,19,-6\n61,20,-4\n61,21,-5\n61,22,-7\n61,23,-7\n61,24,-6\n61,25,7\n61,26,8\n61,27,3\n61,28,7\n61,29,8\n61,30,7\n61,31,7\n61,32,-4\n61,33,8\n61,34,7\n61,35,8\n61,36,5\n61,37,4\n61,38,8\n61,39,7\n61,40,8\n61,41,7\n61,42,7\n61,43,7\n61,44,6\n61,45,7\n61,46,8\n61,47,7\n61,48,8\n61,49,8\n61,50,4\n61,51,8\n61,52,8\n61,53,8\n61,54,5\n61,55,5\n61,56,8\n61,57,8\n61,58,5\n61,59,8\n61,60,8\n62,0,-5\n62,1,5\n62,2,-5\n62,3,5\n62,4,3\n62,5,-2\n62,6,6\n62,7,-4\n62,8,3\n62,9,4\n62,10,-4\n62,11,5\n62,12,3\n62,13,5\n62,14,-6\n62,15,-6\n62,16,-5\n62,17,-6\n62,18,-6\n62,19,-5\n62,20,-4\n62,21,-4\n62,22,-5\n62,23,-6\n62,24,-6\n62,25,6\n62,26,5\n62,27,2\n62,28,6\n62,29,6\n62,30,6\n62,31,5\n62,32,-3\n62,33,6\n62,34,6\n62,35,6\n62,36,4\n62,37,3\n62,38,7\n62,39,6\n62,40,7\n62,41,6\n62,42,6\n62,43,6\n62,44,6\n62,45,6\n62,46,7\n62,47,6\n62,48,7\n62,49,7\n62,50,3\n62,51,7\n62,52,6\n62,53,7\n62,54,4\n62,55,4\n62,56,7\n62,57,7\n62,58,4\n62,59,7\n62,60,7\n62,61,7\n63,0,-3\n63,1,5\n63,2,-4\n63,3,5\n63,4,5\n63,5,4\n63,6,6\n63,7,-3\n63,8,-3\n63,9,5\n63,10,-5\n63,11,6\n63,12,5\n63,13,6\n63,14,-7\n63,15,-7\n63,16,-6\n63,17,-6\n63,18,-7\n63,19,-6\n63,20,-5\n63,21,-5\n63,22,-6\n63,23,-7\n63,24,-6\n63,25,6\n63,26,5\n63,27,3\n63,28,6\n63,29,5\n63,30,5\n63,31,4\n63,32,-5\n63,33,5\n63,34,3\n63,35,5\n63,36,3\n63,37,3\n63,38,4\n63,39,3\n63,40,4\n63,41,4\n63,42,3\n63,43,4\n63,44,3\n63,45,3\n63,46,5\n63,47,4\n63,48,5\n63,49,5\n63,50,2\n63,51,5\n63,52,4\n63,53,5\n63,54,3\n63,55,3\n63,56,5\n63,57,5\n63,58,3\n63,59,5\n63,60,5\n63,61,5\n63,62,5\n64,0,-4\n64,1,6\n64,2,-5\n64,3,-2\n64,4,-3\n64,5,-3\n64,6,6\n64,7,-4\n64,8,2\n64,9,6\n64,10,-5\n64,11,7\n64,12,4\n64,13,6\n64,14,-7\n64,15,-7\n64,16,-6\n64,17,-7\n64,18,-8\n64,19,-6\n64,20,-5\n64,21,-6\n64,22,-6\n64,23,-7\n64,24,-6\n64,25,6\n64,26,6\n64,27,3\n64,28,6\n64,29,6\n64,30,6\n64,31,6\n64,32,-3\n64,33,7\n64,34,6\n64,35,7\n64,36,4\n64,37,3\n64,38,7\n64,39,6\n64,40,7\n64,41,6\n64,42,6\n64,43,6\n64,44,6\n64,45,6\n64,46,7\n64,47,6\n64,48,7\n64,49,7\n64,50,3\n64,51,7\n64,52,6\n64,53,7\n64,54,4\n64,55,4\n64,56,7\n64,57,7\n64,58,4\n64,59,7\n64,60,7\n64,61,7\n64,62,7\n64,63,5\n65,0,-3\n65,1,3\n65,2,-5\n65,3,4\n65,4,-3\n65,5,-3\n65,6,4\n65,7,-6\n65,8,-7\n65,9,-2\n65,10,-7\n65,11,7\n65,12,-3\n65,13,5\n65,14,-7\n65,15,-7\n65,16,-6\n65,17,-7\n65,18,-6\n65,19,-5\n65,20,-6\n65,21,-6\n65,22,-6\n65,23,-7\n65,24,-6\n65,25,5\n65,26,4\n65,27,6\n65,28,3\n65,29,5\n65,30,4\n65,31,5\n65,32,-3\n65,33,4\n65,34,4\n65,35,5\n65,36,3\n65,37,3\n65,38,4\n65,39,3\n65,40,4\n65,41,3\n65,42,4\n65,43,3\n65,44,2\n65,45,4\n65,46,4\n65,47,4\n65,48,5\n65,49,4\n65,50,2\n65,51,4\n65,52,3\n65,53,5\n65,54,3\n65,55,3\n65,56,5\n65,57,4\n65,58,3\n65,59,4\n65,60,5\n65,61,4\n65,62,4\n65,63,3\n65,64,4\n66,0,-6\n66,1,3\n66,2,-5\n66,3,-2\n66,4,-6\n66,5,-6\n66,6,6\n66,7,-4\n66,8,-2\n66,9,3\n66,10,-5\n66,11,6\n66,12,-3\n66,13,6\n66,14,-7\n66,15,-7\n66,16,-6\n66,17,-6\n66,18,-7\n66,19,-5\n66,20,-5\n66,21,-6\n66,22,-7\n66,23,-7\n66,24,-5\n66,25,7\n66,26,7\n66,27,5\n66,28,6\n66,29,7\n66,30,7\n66,31,7\n66,32,-4\n66,33,7\n66,34,6\n66,35,7\n66,36,4\n66,37,4\n66,38,7\n66,39,6\n66,40,7\n66,41,6\n66,42,6\n66,43,6\n66,44,5\n66,45,6\n66,46,7\n66,47,6\n66,48,7\n66,49,7\n66,50,3\n66,51,7\n66,52,7\n66,53,7\n66,54,4\n66,55,4\n66,56,7\n66,57,7\n66,58,4\n66,59,7\n66,60,7\n66,61,7\n66,62,6\n66,63,4\n66,64,5\n66,65,3\n67,0,-6\n67,1,2\n67,2,-6\n67,3,-5\n67,4,-6\n67,5,-6\n67,6,5\n67,7,-5\n67,8,3\n67,9,5\n67,10,-6\n67,11,8\n67,12,2\n67,13,8\n67,14,-8\n67,15,-8\n67,16,-7\n67,17,-7\n67,18,-7\n67,19,-6\n67,20,-6\n67,21,-6\n67,22,-7\n67,23,-7\n67,24,-6\n67,25,7\n67,26,8\n67,27,5\n67,28,7\n67,29,8\n67,30,7\n67,31,7\n67,32,-4\n67,33,8\n67,34,7\n67,35,8\n67,36,5\n67,37,4\n67,38,8\n67,39,7\n67,40,8\n67,41,7\n67,42,7\n67,43,7\n67,44,6\n67,45,7\n67,46,8\n67,47,7\n67,48,8\n67,49,8\n67,50,4\n67,51,8\n67,52,8\n67,53,8\n67,54,5\n67,55,5\n67,56,8\n67,57,8\n67,58,5\n67,59,8\n67,60,8\n67,61,8\n67,62,7\n67,63,5\n67,64,6\n67,65,4\n67,66,7\n68,0,5\n68,1,-3\n68,2,3\n68,3,-5\n68,4,4\n68,5,5\n68,6,4\n68,7,-3\n68,8,-3\n68,9,6\n68,10,-5\n68,11,6\n68,12,6\n68,13,5\n68,14,-8\n68,15,-8\n68,16,-7\n68,17,-7\n68,18,-7\n68,19,-6\n68,20,-5\n68,21,-6\n68,22,-6\n68,23,-7\n68,24,-5\n68,25,4\n68,26,4\n68,27,6\n68,28,2\n68,29,5\n68,30,4\n68,31,3\n68,32,-3\n68,33,3\n68,34,3\n68,35,4\n68,36,2\n68,37,2\n68,38,4\n68,39,3\n68,40,4\n68,41,3\n68,42,4\n68,43,3\n68,44,2\n68,45,3\n68,46,4\n68,47,3\n68,48,5\n68,49,4\n68,50,2\n68,51,4\n68,52,3\n68,53,4\n68,54,3\n68,55,2\n68,56,4\n68,57,4\n68,58,3\n68,59,4\n68,60,4\n68,61,4\n68,62,3\n68,63,3\n68,64,3\n68,65,2\n68,66,3\n68,67,4\n69,0,-4\n69,1,-3\n69,2,-5\n69,3,-5\n69,4,-5\n69,5,-4\n69,6,6\n69,7,-6\n69,8,-3\n69,9,5\n69,10,-6\n69,11,8\n69,12,-3\n69,13,7\n69,14,-8\n69,15,-8\n69,16,-7\n69,17,-7\n69,18,-7\n69,19,-7\n69,20,-6\n69,21,-6\n69,22,-7\n69,23,-8\n69,24,-7\n69,25,8\n69,26,7\n69,27,7\n69,28,7\n69,29,7\n69,30,7\n69,31,7\n69,32,-4\n69,33,7\n69,34,6\n69,35,7\n69,36,4\n69,37,4\n69,38,7\n69,39,6\n69,40,7\n69,41,6\n69,42,7\n69,43,6\n69,44,5\n69,45,6\n69,46,7\n69,47,6\n69,48,7\n69,49,7\n69,50,3\n69,51,7\n69,52,6\n69,53,7\n69,54,5\n69,55,4\n69,56,7\n69,57,7\n69,58,4\n69,59,7\n69,60,7\n69,61,7\n69,62,6\n69,63,4\n69,64,6\n69,65,4\n69,66,6\n69,67,7\n69,68,3\n70,0,-5\n70,1,4\n70,2,-7\n70,3,-3\n70,4,-6\n70,5,-6\n70,6,5\n70,7,-6\n70,8,4\n70,9,4\n70,10,-6\n70,11,8\n70,12,-3\n70,13,8\n70,14,-7\n70,15,-8\n70,16,-7\n70,17,-7\n70,18,-7\n70,19,-6\n70,20,-6\n70,21,-6\n70,22,-7\n70,23,-7\n70,24,-6\n70,25,8\n70,26,8\n70,27,6\n70,28,8\n70,29,8\n70,30,7\n70,31,7\n70,32,-5\n70,33,8\n70,34,7\n70,35,8\n70,36,5\n70,37,4\n70,38,8\n70,39,7\n70,40,8\n70,41,7\n70,42,7\n70,43,7\n70,44,6\n70,45,7\n70,46,8\n70,47,7\n70,48,8\n70,49,8\n70,50,4\n70,51,8\n70,52,8\n70,53,8\n70,54,5\n70,55,5\n70,56,8\n70,57,8\n70,58,5\n70,59,8\n70,60,8\n70,61,8\n70,62,7\n70,63,5\n70,64,6\n70,65,4\n70,66,7\n70,67,8\n70,68,4\n70,69,7\n71,0,-4\n71,1,5\n71,2,-5\n71,3,3\n71,4,-4\n71,5,-4\n71,6,7\n71,7,-3\n71,8,4\n71,9,6\n71,10,-5\n71,11,7\n71,12,5\n71,13,6\n71,14,-7\n71,15,-7\n71,16,-6\n71,17,-6\n71,18,-7\n71,19,-6\n71,20,-5\n71,21,-5\n71,22,-6\n71,23,-7\n71,24,-6\n71,25,7\n71,26,6\n71,27,6\n71,28,6\n71,29,6\n71,30,5\n71,31,6\n71,32,-4\n71,33,7\n71,34,6\n71,35,7\n71,36,4\n71,37,3\n71,38,7\n71,39,6\n71,40,7\n71,41,6\n71,42,6\n71,43,6\n71,44,6\n71,45,6\n71,46,7\n71,47,6\n71,48,7\n71,49,7\n71,50,3\n71,51,7\n71,52,6\n71,53,7\n71,54,4\n71,55,4\n71,56,7\n71,57,7\n71,58,4\n71,59,7\n71,60,7\n71,61,7\n71,62,6\n71,63,4\n71,64,6\n71,65,3\n71,66,6\n71,67,7\n71,68,3\n71,69,6\n71,70,7\n72,0,-3\n72,1,3\n72,2,-4\n72,3,-3\n72,4,3\n72,5,3\n72,6,5\n72,7,-5\n72,8,-3\n72,9,5\n72,10,-5\n72,11,7\n72,12,3\n72,13,6\n72,14,-7\n72,15,-7\n72,16,-7\n72,17,-7\n72,18,-7\n72,19,-6\n72,20,-6\n72,21,-6\n72,22,-6\n72,23,-7\n72,24,-6\n72,25,6\n72,26,5\n72,27,7\n72,28,4\n72,29,6\n72,30,5\n72,31,4\n72,32,-3\n72,33,4\n72,34,4\n72,35,5\n72,36,3\n72,37,3\n72,38,5\n72,39,4\n72,40,5\n72,41,4\n72,42,4\n72,43,4\n72,44,3\n72,45,4\n72,46,5\n72,47,4\n72,48,5\n72,49,5\n72,50,2\n72,51,5\n72,52,4\n72,53,5\n72,54,3\n72,55,3\n72,56,5\n72,57,5\n72,58,3\n72,59,5\n72,60,5\n72,61,5\n72,62,3\n72,63,2\n72,64,3\n72,65,2\n72,66,4\n72,67,5\n72,68,2\n72,69,4\n72,70,5\n72,71,4\n73,0,3\n73,1,-4\n73,2,-3\n73,3,-5\n73,4,-4\n73,5,-4\n73,6,3\n73,7,-4\n73,8,-5\n73,9,3\n73,10,-7\n73,11,7\n73,12,-4\n73,13,6\n73,14,-7\n73,15,-7\n73,16,-6\n73,17,-5\n73,18,-6\n73,19,-5\n73,20,-6\n73,21,-6\n73,22,-6\n73,23,-6\n73,24,-6\n73,25,5\n73,26,4\n73,27,8\n73,28,-2\n73,29,5\n73,30,4\n73,31,3\n73,32,-3\n73,33,3\n73,34,4\n73,35,4\n73,36,3\n73,37,2\n73,38,4\n73,39,3\n73,40,4\n73,41,3\n73,42,4\n73,43,3\n73,44,2\n73,45,3\n73,46,4\n73,47,3\n73,48,5\n73,49,4\n73,50,2\n73,51,4\n73,52,3\n73,53,5\n73,54,3\n73,55,3\n73,56,4\n73,57,4\n73,58,3\n73,59,4\n73,60,5\n73,61,4\n73,62,3\n73,63,2\n73,64,3\n73,65,3\n73,66,3\n73,67,4\n73,68,2\n73,69,4\n73,70,4\n73,71,3\n73,72,3\n74,0,-6\n74,1,3\n74,2,-7\n74,3,-2\n74,4,-6\n74,5,-6\n74,6,5\n74,7,-7\n74,8,2\n74,9,3\n74,10,-6\n74,11,8\n74,12,-4\n74,13,8\n74,14,-7\n74,15,-8\n74,16,-7\n74,17,-7\n74,18,-7\n74,19,-6\n74,20,-6\n74,21,-6\n74,22,-7\n74,23,-7\n74,24,-6\n74,25,8\n74,26,8\n74,27,6\n74,28,7\n74,29,8\n74,30,8\n74,31,7\n74,32,-5\n74,33,8\n74,34,7\n74,35,8\n74,36,5\n74,37,4\n74,38,8\n74,39,7\n74,40,8\n74,41,7\n74,42,7\n74,43,7\n74,44,6\n74,45,7\n74,46,8\n74,47,7\n74,48,8\n74,49,8\n74,50,4\n74,51,8\n74,52,8\n74,53,8\n74,54,5\n74,55,5\n74,56,8\n74,57,8\n74,58,5\n74,59,8\n74,60,8\n74,61,8\n74,62,7\n74,63,5\n74,64,6\n74,65,4\n74,66,7\n74,67,8\n74,68,4\n74,69,7\n74,70,8\n74,71,7\n74,72,5\n74,73,4\n75,0,-4\n75,1,-2\n75,2,-5\n75,3,-3\n75,4,-5\n75,5,-5\n75,6,6\n75,7,-6\n75,8,-3\n75,9,3\n75,10,-6\n75,11,8\n75,12,-4\n75,13,7\n75,14,-7\n75,15,-8\n75,16,-7\n75,17,-6\n75,18,-7\n75,19,-6\n75,20,-6\n75,21,-6\n75,22,-7\n75,23,-7\n75,24,-7\n75,25,8\n75,26,7\n75,27,6\n75,28,7\n75,29,8\n75,30,7\n75,31,7\n75,32,-4\n75,33,8\n75,34,7\n75,35,8\n75,36,5\n75,37,4\n75,38,8\n75,39,7\n75,40,8\n75,41,7\n75,42,7\n75,43,7\n75,44,6\n75,45,7\n75,46,8\n75,47,7\n75,48,8\n75,49,8\n75,50,4\n75,51,8\n75,52,8\n75,53,8\n75,54,5\n75,55,5\n75,56,8\n75,57,8\n75,58,5\n75,59,8\n75,60,8\n75,61,8\n75,62,7\n75,63,5\n75,64,6\n75,65,4\n75,66,7\n75,67,8\n75,68,4\n75,69,7\n75,70,8\n75,71,7\n75,72,5\n75,73,4\n75,74,8\n76,0,-6\n76,1,4\n76,2,-7\n76,3,3\n76,4,-5\n76,5,-5\n76,6,6\n76,7,-5\n76,8,4\n76,9,4\n76,10,-6\n76,11,7\n76,12,2\n76,13,8\n76,14,-8\n76,15,-8\n76,16,-7\n76,17,-8\n76,18,-8\n76,19,-6\n76,20,-6\n76,21,-6\n76,22,-7\n76,23,-7\n76,24,-6\n76,25,8\n76,26,8\n76,27,5\n76,28,8\n76,29,8\n76,30,8\n76,31,7\n76,32,-4\n76,33,8\n76,34,7\n76,35,8\n76,36,5\n76,37,4\n76,38,8\n76,39,7\n76,40,8\n76,41,7\n76,42,7\n76,43,7\n76,44,6\n76,45,7\n76,46,8\n76,47,7\n76,48,8\n76,49,8\n76,50,4\n76,51,8\n76,52,8\n76,53,8\n76,54,5\n76,55,5\n76,56,8\n76,57,8\n76,58,5\n76,59,8\n76,60,8\n76,61,8\n76,62,7\n76,63,5\n76,64,6\n76,65,4\n76,66,7\n76,67,8\n76,68,4\n76,69,7\n76,70,8\n76,71,7\n76,72,5\n76,73,4\n76,74,8\n76,75,8\n77,0,-7\n77,1,4\n77,2,-7\n77,3,5\n77,4,-6\n77,5,-6\n77,6,6\n77,7,-4\n77,8,3\n77,9,5\n77,10,-6\n77,11,7\n77,12,3\n77,13,7\n77,14,-8\n77,15,-8\n77,16,-7\n77,17,-7\n77,18,-7\n77,19,-6\n77,20,-5\n77,21,-6\n77,22,-7\n77,23,-7\n77,24,-6\n77,25,7\n77,26,7\n77,27,4\n77,28,7\n77,29,7\n77,30,7\n77,31,7\n77,32,-4\n77,33,7\n77,34,6\n77,35,7\n77,36,4\n77,37,3\n77,38,7\n77,39,6\n77,40,7\n77,41,6\n77,42,6\n77,43,6\n77,44,6\n77,45,6\n77,46,7\n77,47,6\n77,48,7\n77,49,7\n77,50,3\n77,51,7\n77,52,6\n77,53,7\n77,54,4\n77,55,4\n77,56,7\n77,57,7\n77,58,4\n77,59,7\n77,60,7\n77,61,7\n77,62,6\n77,63,4\n77,64,6\n77,65,3\n77,66,6\n77,67,7\n77,68,3\n77,69,6\n77,70,7\n77,71,6\n77,72,4\n77,73,3\n77,74,7\n77,75,7\n77,76,7\n78,0,-4\n78,1,4\n78,2,-5\n78,3,5\n78,4,-3\n78,5,-3\n78,6,6\n78,7,-5\n78,8,-4\n78,9,4\n78,10,-6\n78,11,7\n78,12,3\n78,13,6\n78,14,-7\n78,15,-8\n78,16,-7\n78,17,-7\n78,18,-7\n78,19,-6\n78,20,-6\n78,21,-6\n78,22,-7\n78,23,-7\n78,24,-6\n78,25,7\n78,26,6\n78,27,6\n78,28,6\n78,29,6\n78,30,5\n78,31,5\n78,32,-4\n78,33,7\n78,34,6\n78,35,7\n78,36,4\n78,37,3\n78,38,7\n78,39,6\n78,40,7\n78,41,6\n78,42,6\n78,43,6\n78,44,6\n78,45,6\n78,46,7\n78,47,6\n78,48,7\n78,49,7\n78,50,3\n78,51,7\n78,52,6\n78,53,7\n78,54,4\n78,55,4\n78,56,7\n78,57,7\n78,58,4\n78,59,7\n78,60,7\n78,61,7\n78,62,6\n78,63,4\n78,64,6\n78,65,3\n78,66,6\n78,67,7\n78,68,3\n78,69,6\n78,70,7\n78,71,6\n78,72,4\n78,73,3\n78,74,7\n78,75,7\n78,76,7\n78,77,6\n79,0,-6\n79,1,5\n79,2,-7\n79,3,-3\n79,4,-6\n79,5,-6\n79,6,7\n79,7,-5\n79,8,-3\n79,9,5\n79,10,-6\n79,11,8\n79,12,-4\n79,13,5\n79,14,-7\n79,15,-7\n79,16,-7\n79,17,-7\n79,18,-8\n79,19,-7\n79,20,-4\n79,21,-5\n79,22,-6\n79,23,-7\n79,24,-6\n79,25,8\n79,26,7\n79,27,6\n79,28,7\n79,29,7\n79,30,6\n79,31,7\n79,32,-4\n79,33,7\n79,34,6\n79,35,7\n79,36,4\n79,37,3\n79,38,7\n79,39,6\n79,40,7\n79,41,6\n79,42,6\n79,43,6\n79,44,6\n79,45,6\n79,46,7\n79,47,6\n79,48,7\n79,49,7\n79,50,3\n79,51,7\n79,52,6\n79,53,7\n79,54,4\n79,55,4\n79,56,7\n79,57,7\n79,58,4\n79,59,7\n79,60,7\n79,61,7\n79,62,6\n79,63,4\n79,64,5\n79,65,3\n79,66,6\n79,67,7\n79,68,3\n79,69,6\n79,70,7\n79,71,6\n79,72,4\n79,73,3\n79,74,7\n79,75,7\n79,76,7\n79,77,6\n79,78,6\n80,0,-5\n80,1,3\n80,2,-5\n80,3,5\n80,4,-5\n80,5,-5\n80,6,6\n80,7,-5\n80,8,-5\n80,9,4\n80,10,-5\n80,11,7\n80,12,3\n80,13,4\n80,14,-7\n80,15,-7\n80,16,-6\n80,17,-7\n80,18,-7\n80,19,-6\n80,20,-4\n80,21,-5\n80,22,-6\n80,23,-7\n80,24,-6\n80,25,8\n80,26,6\n80,27,6\n80,28,7\n80,29,7\n80,30,5\n80,31,7\n80,32,-3\n80,33,7\n80,34,6\n80,35,7\n80,36,4\n80,37,3\n80,38,7\n80,39,6\n80,40,7\n80,41,6\n80,42,6\n80,43,6\n80,44,6\n80,45,6\n80,46,7\n80,47,6\n80,48,7\n80,49,7\n80,50,3\n80,51,7\n80,52,6\n80,53,7\n80,54,4\n80,55,3\n80,56,7\n80,57,7\n80,58,4\n80,59,7\n80,60,7\n80,61,7\n80,62,6\n80,63,4\n80,64,5\n80,65,3\n80,66,6\n80,67,7\n80,68,3\n80,69,6\n80,70,7\n80,71,6\n80,72,4\n80,73,3\n80,74,7\n80,75,7\n80,76,7\n80,77,6\n80,78,6\n80,79,7\n81,0,-4\n81,1,4\n81,2,-5\n81,3,-4\n81,4,-6\n81,5,-6\n81,6,5\n81,7,-6\n81,8,-5\n81,9,5\n81,10,-6\n81,11,8\n81,12,-4\n81,13,6\n81,14,-7\n81,15,-8\n81,16,-7\n81,17,-7\n81,18,-7\n81,19,-6\n81,20,-6\n81,21,-6\n81,22,-7\n81,23,-7\n81,24,-7\n81,25,8\n81,26,7\n81,27,7\n81,28,7\n81,29,8\n81,30,7\n81,31,7\n81,32,-4\n81,33,7\n81,34,7\n81,35,7\n81,36,5\n81,37,4\n81,38,7\n81,39,6\n81,40,7\n81,41,6\n81,42,6\n81,43,6\n81,44,6\n81,45,6\n81,46,7\n81,47,6\n81,48,7\n81,49,7\n81,50,3\n81,51,7\n81,52,6\n81,53,7\n81,54,4\n81,55,4\n81,56,7\n81,57,7\n81,58,4\n81,59,7\n81,60,7\n81,61,7\n81,62,6\n81,63,4\n81,64,5\n81,65,4\n81,66,6\n81,67,7\n81,68,3\n81,69,6\n81,70,7\n81,71,6\n81,72,4\n81,73,3\n81,74,7\n81,75,7\n81,76,7\n81,77,6\n81,78,6\n81,79,7\n81,80,7\n82,0,-6\n82,1,6\n82,2,-6\n82,3,4\n82,4,-6\n82,5,-6\n82,6,6\n82,7,-4\n82,8,2\n82,9,6\n82,10,-6\n82,11,7\n82,12,3\n82,13,7\n82,14,-8\n82,15,-8\n82,16,-7\n82,17,-8\n82,18,-7\n82,19,-6\n82,20,-5\n82,21,-6\n82,22,-7\n82,23,-7\n82,24,-6\n82,25,8\n82,26,8\n82,27,6\n82,28,7\n82,29,8\n82,30,7\n82,31,7\n82,32,-4\n82,33,7\n82,34,6\n82,35,7\n82,36,4\n82,37,4\n82,38,7\n82,39,6\n82,40,7\n82,41,6\n82,42,6\n82,43,6\n82,44,6\n82,45,6\n82,46,7\n82,47,6\n82,48,7\n82,49,7\n82,50,3\n82,51,7\n82,52,6\n82,53,7\n82,54,4\n82,55,4\n82,56,7\n82,57,7\n82,58,4\n82,59,7\n82,60,7\n82,61,7\n82,62,6\n82,63,4\n82,64,6\n82,65,3\n82,66,6\n82,67,7\n82,68,3\n82,69,6\n82,70,7\n82,71,6\n82,72,4\n82,73,3\n82,74,7\n82,75,7\n82,76,7\n82,77,6\n82,78,6\n82,79,7\n82,80,7\n82,81,7\n83,0,-4\n83,1,5\n83,2,-4\n83,3,-4\n83,4,-5\n83,5,-6\n83,6,7\n83,7,-4\n83,8,-5\n83,9,5\n83,10,-4\n83,11,7\n83,12,-3\n83,13,2\n83,14,-6\n83,15,-7\n83,16,-5\n83,17,-6\n83,18,-7\n83,19,-7\n83,20,-3\n83,21,-4\n83,22,-4\n83,23,-6\n83,24,-6\n83,25,7\n83,26,6\n83,27,6\n83,28,6\n83,29,6\n83,30,5\n83,31,7\n83,32,-3\n83,33,5\n83,34,4\n83,35,5\n83,36,3\n83,37,3\n83,38,5\n83,39,4\n83,40,5\n83,41,4\n83,42,4\n83,43,4\n83,44,4\n83,45,4\n83,46,5\n83,47,4\n83,48,5\n83,49,5\n83,50,2\n83,51,5\n83,52,4\n83,53,5\n83,54,3\n83,55,3\n83,56,5\n83,57,5\n83,58,3\n83,59,5\n83,60,5\n83,61,5\n83,62,4\n83,63,2\n83,64,3\n83,65,2\n83,66,4\n83,67,5\n83,68,2\n83,69,4\n83,70,5\n83,71,4\n83,72,2\n83,73,2\n83,74,5\n83,75,5\n83,76,5\n83,77,4\n83,78,4\n83,79,7\n83,80,6\n83,81,6\n83,82,6\n84,0,-4\n84,1,5\n84,2,-5\n84,3,-2\n84,4,-6\n84,5,-6\n84,6,6\n84,7,-6\n84,8,-5\n84,9,5\n84,10,-6\n84,11,8\n84,12,-4\n84,13,5\n84,14,-8\n84,15,-8\n84,16,-7\n84,17,-7\n84,18,-8\n84,19,-7\n84,20,-5\n84,21,-5\n84,22,-6\n84,23,-7\n84,24,-7\n84,25,8\n84,26,7\n84,27,7\n84,28,7\n84,29,7\n84,30,6\n84,31,7\n84,32,-4\n84,33,7\n84,34,6\n84,35,7\n84,36,4\n84,37,3\n84,38,7\n84,39,6\n84,40,7\n84,41,6\n84,42,6\n84,43,6\n84,44,6\n84,45,6\n84,46,7\n84,47,6\n84,48,7\n84,49,7\n84,50,3\n84,51,7\n84,52,6\n84,53,7\n84,54,4\n84,55,4\n84,56,7\n84,57,7\n84,58,4\n84,59,7\n84,60,7\n84,61,7\n84,62,6\n84,63,4\n84,64,5\n84,65,3\n84,66,6\n84,67,7\n84,68,3\n84,69,6\n84,70,7\n84,71,6\n84,72,4\n84,73,3\n84,74,7\n84,75,7\n84,76,7\n84,77,6\n84,78,6\n84,79,7\n84,80,7\n84,81,7\n84,82,7\n84,83,5\n85,0,-5\n85,1,6\n85,2,-5\n85,3,6\n85,4,-3\n85,5,-4\n85,6,-4\n85,7,-6\n85,8,-5\n85,9,-7\n85,10,2\n85,11,-3\n85,12,-6\n85,13,-6\n85,14,7\n85,15,7\n85,16,6\n85,17,6\n85,18,7\n85,19,5\n85,20,2\n85,21,3\n85,22,5\n85,23,6\n85,24,4\n85,25,-3\n85,26,-5\n85,27,-5\n85,28,-4\n85,29,-5\n85,30,-5\n85,31,-3\n85,32,2\n85,33,-3\n85,34,-3\n85,35,-4\n85,36,-5\n85,37,-3\n85,38,-5\n85,39,-6\n85,40,-5\n85,41,-5\n85,42,-5\n85,43,-6\n85,44,-6\n85,45,-6\n85,46,-2\n85,47,-2\n85,48,-3\n85,49,-2\n85,50,-2\n85,51,-2\n85,52,-3\n85,53,-3\n85,54,1\n85,55,-2\n85,56,-3\n85,57,-5\n85,58,-5\n85,59,-5\n85,60,-4\n85,61,-4\n85,62,-5\n85,63,-4\n85,64,-4\n85,65,-5\n85,66,-5\n85,67,-5\n85,68,-5\n85,69,-6\n85,70,-6\n85,71,-5\n85,72,-5\n85,73,-5\n85,74,-5\n85,75,-5\n85,76,-5\n85,77,-5\n85,78,-5\n85,79,-5\n85,80,-5\n85,81,-5\n85,82,-5\n85,83,-5\n85,84,-5\n86,0,-3\n86,1,3\n86,2,-5\n86,3,6\n86,4,4\n86,5,2\n86,6,-5\n86,7,-6\n86,8,3\n86,9,-7\n86,10,4\n86,11,-5\n86,12,-7\n86,13,-6\n86,14,7\n86,15,8\n86,16,7\n86,17,7\n86,18,7\n86,19,6\n86,20,4\n86,21,4\n86,22,6\n86,23,7\n86,24,5\n86,25,-4\n86,26,-5\n86,27,-6\n86,28,-5\n86,29,-5\n86,30,-5\n86,31,-3\n86,32,3\n86,33,-3\n86,34,-3\n86,35,-4\n86,36,-5\n86,37,-3\n86,38,-5\n86,39,-6\n86,40,-5\n86,41,-5\n86,42,-6\n86,43,-6\n86,44,-6\n86,45,-6\n86,46,-3\n86,47,-3\n86,48,-3\n86,49,-3\n86,50,-2\n86,51,-3\n86,52,-3\n86,53,-3\n86,54,-2\n86,55,-3\n86,56,-3\n86,57,-5\n86,58,-5\n86,59,-5\n86,60,-5\n86,61,-5\n86,62,-5\n86,63,-5\n86,64,-5\n86,65,-5\n86,66,-5\n86,67,-5\n86,68,-5\n86,69,-5\n86,70,-6\n86,71,-5\n86,72,-5\n86,73,-5\n86,74,-5\n86,75,-5\n86,76,-5\n86,77,-5\n86,78,-5\n86,79,-5\n86,80,-5\n86,81,-5\n86,82,-5\n86,83,-5\n86,84,-5\n86,85,8","format":{"type":"csv","parse":{"r":"number","c":"number","v":"number"}}},
"encoding":{"x":{"field":"c","type":"quantitative","scale":{"domain":[0,85],"range":[268,2216]}},"y":{"field":"r","type":"quantitative","scale":{"domain":[1,86],"range":[210,2159]}}},
"layer":[{"mark":{"type":"point","shape":"square","filled":true,"fill":"white","stroke":"#BEBEBE","strokeWidth":3,"size":400,"opacity":1}},
{"mark":{"type":"point","shape":"circle","filled":true,"opacity":1},"encoding":{"color":{"field":"v","type":"quantitative","scale":{"type":"threshold","domain":[0],"range":["#0000FF","#FF0000"]}},"size":{"field":"v","type":"quantitative","scale":{"type":"pow","exponent":2,"domain":[-10,0,10],"range":[484,0,484]}}}}]}]},
{"layer":[
{"data":{"values":[{"a":-1.46,"b":-0.44,"k":"n"},{"a":-0.44,"b":0.5,"k":"z"},{"a":0.5,"b":1.53,"k":"p"}]},"mark":{"type":"rect","opacity":1},"encoding":{"x":{"field":"a","type":"quantitative","scale":{"domain":[-1.5,1.5],"range":[997,1247]}},"x2":{"field":"b"},"y":{"datum":0,"type":"quantitative","scale":{"domain":[-1,1],"range":[380,206]}},"y2":{"datum":1},"fill":{"field":"k","scale":{"domain":["n","z","p"],"range":["#0000FF","#FFFFFF","#FF2A2A"]}}}},
{"data":{"values":[{"a":-1.46,"b":1.53}]},"mark":{"type":"rect","fillOpacity":0,"stroke":"#000","strokeWidth":4,"opacity":1},"encoding":{"x":{"field":"a","type":"quantitative","scale":{"domain":[-1.5,1.5],"range":[997,1247]}},"x2":{"field":"b"},"y":{"datum":0,"type":"quantitative","scale":{"domain":[-1,1],"range":[380,206]}},"y2":{"datum":1}}},
{"data":{"values":[{"a":-1},{"a":0},{"a":1}]},"mark":{"type":"rule","color":"#222","strokeWidth":3,"opacity":1},"encoding":{"x":{"field":"a","type":"quantitative","scale":{"domain":[-1.5,1.5],"range":[997,1247]}},"y":{"datum":0,"type":"quantitative","scale":{"domain":[-1,1],"range":[380,206]}},"y2":{"datum":-0.2}}},
{"data":{"values":[{"a":-1.2,"t":"−1"},{"a":0,"t":"0"},{"a":1,"t":"1"}]},"mark":{"type":"text","fontSize":44,"fill":"#000","align":"center","baseline":"middle"},"encoding":{"x":{"field":"a","type":"quantitative","scale":{"domain":[-1.5,1.5],"range":[997,1247]}},"y":{"datum":-0.5,"type":"quantitative","scale":{"domain":[-1,1],"range":[380,206]}},"text":{"field":"t"}}}]},
{"encoding":{"x":{"field":"x","type":"quantitative","scale":{"domain":[0,3884],"range":[0,3884]}},"y":{"field":"y","type":"quantitative","scale":{"domain":[0,2208],"range":[0,2208]}}},
"layer":[
{"data":{"values":[{"a":12,"b":26,"r":-0.93},{"a":19,"b":23,"r":-0.9},{"a":23,"b":24,"r":-0.9},{"a":23,"b":27,"r":-0.88},{"a":22,"b":23,"r":-0.8},{"a":18,"b":19,"r":0.9},{"a":18,"b":20,"r":0.88},{"a":19,"b":22,"r":0.88},{"a":19,"b":24,"r":0.88},{"a":22,"b":24,"r":0.8},{"a":20,"b":26,"r":0.88},{"a":18,"b":26,"r":0.88},{"a":19,"b":26,"r":0.85},{"a":24,"b":26,"r":0.82},{"a":25,"b":26,"r":0.9},{"a":26,"b":27,"r":0.9},{"a":28,"b":29,"r":0.92},{"a":27,"b":28,"r":0.8},{"a":27,"b":29,"r":0.82},{"a":19,"b":27,"r":0.85},{"a":24,"b":27,"r":0.87},{"a":18,"b":28,"r":0.82},{"a":21,"b":25,"r":0.76},{"a":20,"b":25,"r":0.78},{"a":18,"b":25,"r":0.78},{"a":20,"b":24,"r":0.8},{"a":22,"b":27,"r":0.77},{"a":22,"b":26,"r":0.76},{"a":19,"b":29,"r":0.76},{"a":28,"b":30,"r":0.76},{"a":29,"b":30,"r":0.76},{"a":26,"b":28,"r":0.76},{"a":31,"b":32,"r":0.85},{"a":33,"b":34,"r":0.85},{"a":69,"b":70,"r":0.88},{"a":0,"b":1,"r":0.76},{"a":1,"b":2,"r":0.77},{"a":1,"b":4,"r":0.76},{"a":1,"b":10,"r":0.76},{"a":2,"b":4,"r":0.82},{"a":2,"b":5,"r":0.76},{"a":0,"b":2,"r":0.76},{"a":2,"b":12,"r":0.82},{"a":2,"b":6,"r":0.8},{"a":4,"b":5,"r":0.78},{"a":4,"b":9,"r":0.76},{"a":5,"b":7,"r":0.77},{"a":9,"b":10,"r":0.8},{"a":9,"b":15,"r":0.8},{"a":10,"b":13,"r":0.83},{"a":10,"b":8,"r":0.77},{"a":3,"b":6,"r":0.76},{"a":6,"b":12,"r":0.78},{"a":11,"b":12,"r":0.8},{"a":12,"b":13,"r":0.88},{"a":7,"b":12,"r":0.76},{"a":8,"b":12,"r":0.77},{"a":12,"b":17,"r":0.76},{"a":13,"b":16,"r":0.8},{"a":13,"b":14,"r":0.76},{"a":13,"b":15,"r":0.76},{"a":12,"b":14,"r":0.76},{"a":12,"b":15,"r":0.76},{"a":12,"b":16,"r":0.76},{"a":12,"b":42,"r":0.85},{"a":12,"b":41,"r":0.8},{"a":12,"b":43,"r":0.85},{"a":12,"b":35,"r":0.82},{"a":12,"b":36,"r":0.82},{"a":12,"b":48,"r":0.8},{"a":12,"b":45,"r":0.76},{"a":12,"b":46,"r":0.76},{"a":12,"b":47,"r":0.76},{"a":12,"b":38,"r":0.76},{"a":12,"b":40,"r":0.76},{"a":12,"b":44,"r":0.76},{"a":13,"b":38,"r":0.88},{"a":16,"b":40,"r":0.85},{"a":13,"b":41,"r":0.8},{"a":35,"b":36,"r":0.93},{"a":35,"b":38,"r":0.82},{"a":36,"b":38,"r":0.8},{"a":37,"b":38,"r":0.78},{"a":38,"b":39,"r":0.9},{"a":38,"b":40,"r":0.9},{"a":38,"b":41,"r":0.85},{"a":38,"b":44,"r":0.82},{"a":39,"b":41,"r":0.9},{"a":39,"b":40,"r":0.76},{"a":37,"b":39,"r":0.76},{"a":36,"b":37,"r":0.76},{"a":36,"b":39,"r":0.76},{"a":38,"b":48,"r":0.77},{"a":38,"b":46,"r":0.77},{"a":38,"b":42,"r":0.77},{"a":35,"b":42,"r":0.8},{"a":35,"b":43,"r":0.8},{"a":35,"b":41,"r":0.77},{"a":35,"b":40,"r":0.77},{"a":35,"b":47,"r":0.76},{"a":35,"b":46,"r":0.76},{"a":36,"b":41,"r":0.76},{"a":36,"b":40,"r":0.76},{"a":36,"b":42,"r":0.76},{"a":41,"b":44,"r":0.85},{"a":40,"b":41,"r":0.88},{"a":40,"b":44,"r":0.85},{"a":41,"b":48,"r":0.82},{"a":44,"b":46,"r":0.8},{"a":44,"b":48,"r":0.8},{"a":42,"b":46,"r":0.88},{"a":42,"b":47,"r":0.9},{"a":42,"b":48,"r":0.8},{"a":43,"b":45,"r":0.8},{"a":43,"b":46,"r":0.78},{"a":43,"b":47,"r":0.78},{"a":45,"b":46,"r":0.8},{"a":45,"b":47,"r":0.85},{"a":46,"b":47,"r":0.88},{"a":46,"b":48,"r":0.92},{"a":47,"b":48,"r":0.9},{"a":41,"b":42,"r":0.76},{"a":42,"b":44,"r":0.76},{"a":42,"b":43,"r":0.76},{"a":45,"b":48,"r":0.77},{"a":43,"b":48,"r":0.76},{"a":47,"b":49,"r":0.76},{"a":48,"b":49,"r":0.76},{"a":46,"b":49,"r":0.76},{"a":59,"b":50,"r":0.76},{"a":44,"b":47,"r":0.76},{"a":51,"b":52,"r":0.8},{"a":53,"b":55,"r":0.82},{"a":52,"b":56,"r":0.9},{"a":52,"b":57,"r":0.9},{"a":56,"b":57,"r":0.87},{"a":56,"b":59,"r":0.85},{"a":55,"b":66,"r":0.85},{"a":56,"b":62,"r":0.92},{"a":57,"b":59,"r":0.9},{"a":57,"b":62,"r":0.82},{"a":59,"b":62,"r":0.8},{"a":57,"b":66,"r":0.82},{"a":59,"b":45,"r":0.88},{"a":63,"b":64,"r":0.92},{"a":64,"b":65,"r":0.87},{"a":63,"b":65,"r":0.78},{"a":63,"b":67,"r":0.78},{"a":58,"b":60,"r":0.76},{"a":61,"b":63,"r":0.78},{"a":52,"b":59,"r":0.78},{"a":52,"b":66,"r":0.78},{"a":54,"b":59,"r":0.76},{"a":54,"b":62,"r":0.76},{"a":52,"b":62,"r":0.78},{"a":52,"b":54,"r":0.76},{"a":53,"b":56,"r":0.76},{"a":52,"b":53,"r":0.76},{"a":60,"b":61,"r":0.76},{"a":60,"b":64,"r":0.76},{"a":61,"b":64,"r":0.76},{"a":64,"b":67,"r":0.76},{"a":60,"b":65,"r":0.76},{"a":60,"b":67,"r":0.76},{"a":59,"b":61,"r":0.76},{"a":59,"b":66,"r":0.76},{"a":55,"b":56,"r":0.76},{"a":66,"b":68,"r":0.76},{"a":64,"b":66,"r":0.76},{"a":45,"b":62,"r":0.82},{"a":47,"b":62,"r":0.82},{"a":43,"b":62,"r":0.8},{"a":43,"b":57,"r":0.77},{"a":45,"b":57,"r":0.78},{"a":46,"b":57,"r":0.77},{"a":43,"b":54,"r":0.78},{"a":46,"b":54,"r":0.78},{"a":42,"b":54,"r":0.76},{"a":43,"b":52,"r":0.78},{"a":42,"b":52,"r":0.77},{"a":46,"b":52,"r":0.77},{"a":45,"b":52,"r":0.77},{"a":46,"b":62,"r":0.77},{"a":42,"b":62,"r":0.76},{"a":42,"b":59,"r":0.76},{"a":43,"b":59,"r":0.76},{"a":47,"b":59,"r":0.76},{"a":46,"b":59,"r":0.76},{"a":42,"b":56,"r":0.76},{"a":45,"b":66,"r":0.76},{"a":47,"b":66,"r":0.76},{"a":46,"b":66,"r":0.76},{"a":47,"b":68,"r":0.76},{"a":42,"b":60,"r":0.76},{"a":13,"b":52,"r":0.76},{"a":16,"b":52,"r":0.76},{"a":15,"b":52,"r":0.76},{"a":12,"b":52,"r":0.76},{"a":12,"b":57,"r":0.76},{"a":12,"b":54,"r":0.76},{"a":13,"b":54,"r":0.76},{"a":16,"b":54,"r":0.76},{"a":16,"b":57,"r":0.76},{"a":16,"b":62,"r":0.76},{"a":12,"b":59,"r":0.76},{"a":13,"b":57,"r":0.76},{"a":13,"b":62,"r":0.76},{"a":12,"b":62,"r":0.76},{"a":15,"b":53,"r":0.76},{"a":14,"b":52,"r":0.76},{"a":35,"b":57,"r":0.77},{"a":35,"b":59,"r":0.76},{"a":35,"b":62,"r":0.76},{"a":35,"b":54,"r":0.76},{"a":38,"b":62,"r":0.76},{"a":38,"b":59,"r":0.76},{"a":36,"b":62,"r":0.76},{"a":36,"b":57,"r":0.76},{"a":16,"b":47,"r":0.76},{"a":16,"b":45,"r":0.76},{"a":13,"b":46,"r":0.76},{"a":13,"b":48,"r":0.76},{"a":13,"b":42,"r":0.77},{"a":13,"b":43,"r":0.76},{"a":16,"b":42,"r":0.77},{"a":16,"b":43,"r":0.77},{"a":16,"b":46,"r":0.77},{"a":16,"b":48,"r":0.77},{"a":12,"b":49,"r":0.76},{"a":16,"b":41,"r":0.77},{"a":16,"b":44,"r":0.76},{"a":13,"b":44,"r":0.76}]},"transform":[{"lookup":"a","from":{"data":{"name":"nodes"},"key":"id","fields":["x","y"]}},{"lookup":"b","from":{"data":{"name":"nodes"},"key":"id","fields":["x","y"]},"as":["xb","yb"]}],"mark":{"type":"rule"},"encoding":{"x2":{"field":"xb"},"y2":{"field":"yb"},"color":{"field":"r","type":"quantitative","scale":{"type":"threshold","domain":[0],"range":["#9C9CFF","#FF96A8"]}},"strokeWidth":{"field":"r","type":"quantitative","scale":{"domain":[-0.95,-0.75,0.75,0.95],"range":[11,1.5,1.5,11]}},"opacity":{"field":"r","type":"quantitative","scale":{"domain":[-0.95,-0.82,-0.75,0.75,0.78,0.82,0.95],"range":[1,1,0.28,0.28,0.6,1,1]}}}},
{"data":{"name":"nodes"},"transform":[{"filter":"datum.g!='none'"}],"mark":{"type":"point","shape":"M-0.5,-0.9L0.5,-0.9L1,0L0.5,0.9L-0.5,0.9L-1,0Z","filled":true,"size":4225,"strokeWidth":6,"opacity":1},"encoding":{"fill":{"field":"g","scale":{"domain":["PI","PC","PCO","PEO","LPE","LPC","SM","DG","TGl","CE","Cl","TGc"],"range":["#FF88FF","#FFFF2E","#FFC000","#2BD62B","#66FF33","#FFFF99","#00FFFF","#FF9955","#FF6600","#FF0000","#CCCCCC","#FFFFFF"]}},"stroke":{"field":"g","scale":{"domain":["PI","PC","PCO","PEO","LPE","LPC","SM","DG","TGl","CE","Cl","TGc"],"range":["#FF0000","#FF0000","#FF0000","#FF0000","#FF0000","#FF0000","#FF0000","#1A1AFF","#1A1AFF","#FF0000","#FF0000","#1A1AFF"]}}}},
{"data":{"name":"nodes"},"mark":{"type":"text","fontSize":26,"baseline":"middle","align":"center"},"encoding":{"x":{"field":"lx","type":"quantitative"},"y":{"field":"ly","type":"quantitative"},"text":{"field":"n"}}},
{"data":{"values":[{"x":105,"y":148,"t":"A"},{"x":1632,"y":148,"t":"B"}]},"mark":{"type":"text","fontSize":133,"fill":"#000","align":"center","baseline":"alphabetic"},"encoding":{"text":{"field":"t"}}},
{"data":{"values":[{"x":1688,"y":269,"t":"n = 45"},{"x":1672,"y":348,"t":"|r| ≥ 0.75"},{"x":1688,"y":420,"t":"p < 0.00001"}]},"mark":{"type":"text","fontSize":64,"fill":"#000","align":"left","baseline":"alphabetic"},"encoding":{"text":{"field":"t"}}}
]}
]}
